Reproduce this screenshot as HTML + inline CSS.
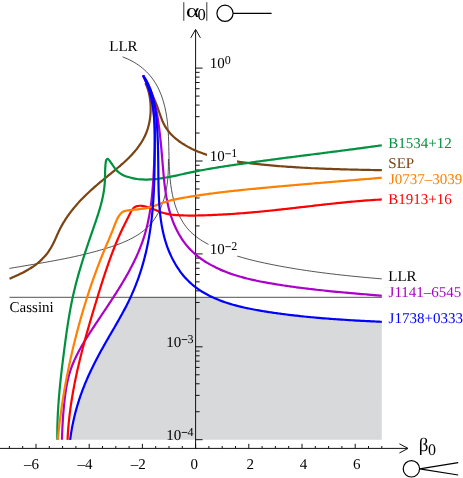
<!DOCTYPE html>
<html><head><meta charset="utf-8"><title>alpha0-beta0</title>
<style>html,body{margin:0;padding:0;background:#fff;}body{width:463px;height:478px;overflow:hidden;}svg{display:block;will-change:transform;}text{font-family:"Liberation Serif",serif;text-rendering:geometricPrecision;}</style>
</head><body>
<svg width="463" height="478" viewBox="0 0 463 478">
<rect width="463" height="478" fill="#fff"/>
<path d="M70.13 439.86 C70.19 439.44 70.35 438.18 70.46 437.35 C70.58 436.51 70.70 435.67 70.83 434.84 C70.95 434.01 71.08 433.17 71.22 432.34 C71.35 431.51 71.49 430.68 71.64 429.85 C71.78 429.01 71.93 428.19 72.09 427.36 C72.24 426.53 72.40 425.70 72.57 424.88 C72.73 424.05 72.90 423.22 73.08 422.40 C73.25 421.58 73.43 420.75 73.61 419.93 C73.80 419.11 73.99 418.29 74.18 417.47 C74.37 416.65 74.57 415.84 74.77 415.02 C74.98 414.20 75.18 413.39 75.40 412.58 C75.61 411.76 75.82 410.95 76.04 410.14 C76.27 409.33 76.49 408.52 76.72 407.71 C76.95 406.90 77.19 406.10 77.43 405.29 C77.67 404.49 77.91 403.68 78.16 402.88 C78.41 402.08 78.66 401.28 78.92 400.48 C79.17 399.68 79.44 398.88 79.70 398.09 C79.97 397.29 80.24 396.50 80.51 395.71 C80.79 394.91 81.07 394.12 81.35 393.34 C81.64 392.55 81.92 391.76 82.22 390.97 C82.51 390.19 82.81 389.40 83.11 388.62 C83.41 387.84 83.71 387.06 84.02 386.28 C84.33 385.50 84.64 384.73 84.96 383.95 C85.28 383.18 85.60 382.41 85.92 381.63 C86.25 380.86 86.58 380.09 86.91 379.33 C87.24 378.56 87.58 377.79 87.92 377.03 C88.26 376.26 88.60 375.50 88.95 374.74 C89.30 373.97 89.65 373.21 90.00 372.45 C90.35 371.70 90.71 370.94 91.07 370.18 C91.43 369.43 91.79 368.67 92.16 367.92 C92.53 367.16 92.90 366.41 93.27 365.66 C93.64 364.91 94.02 364.16 94.39 363.41 C94.77 362.66 95.15 361.92 95.53 361.17 C95.92 360.43 96.30 359.68 96.69 358.94 C97.08 358.19 97.47 357.45 97.86 356.71 C98.25 355.97 98.65 355.23 99.05 354.49 C99.44 353.75 99.84 353.01 100.24 352.27 C100.65 351.54 101.05 350.80 101.45 350.06 C101.86 349.33 102.27 348.59 102.68 347.86 C103.08 347.13 103.50 346.39 103.91 345.66 C104.32 344.93 104.73 344.20 105.15 343.47 C105.56 342.74 105.98 342.01 106.40 341.28 C106.82 340.55 107.24 339.82 107.66 339.09 C108.08 338.36 108.50 337.63 108.92 336.91 C109.34 336.18 109.76 335.45 110.18 334.72 C110.60 334.00 111.03 333.27 111.45 332.54 C111.87 331.81 112.29 331.09 112.72 330.36 C113.14 329.63 113.56 328.91 113.98 328.18 C114.40 327.45 114.82 326.72 115.24 325.99 C115.66 325.27 116.08 324.54 116.50 323.81 C116.92 323.08 117.34 322.35 117.75 321.62 C118.17 320.89 118.58 320.16 118.99 319.43 C119.41 318.70 119.82 317.96 120.23 317.23 C120.64 316.50 121.04 315.76 121.45 315.03 C121.85 314.29 122.26 313.56 122.66 312.82 C123.06 312.08 123.46 311.35 123.85 310.61 C124.25 309.87 124.64 309.13 125.03 308.38 C125.42 307.64 125.81 306.90 126.19 306.15 C126.57 305.41 126.95 304.66 127.33 303.91 C127.71 303.16 128.08 302.41 128.45 301.66 C128.82 300.91 129.20 300.13 129.54 299.40 C129.89 298.67 130.34 297.65 130.50 297.30 L212.6 297.3 L212.80 297.30 C213.13 297.46 214.08 297.95 214.80 298.28 C215.53 298.61 216.36 298.95 217.14 299.27 C217.92 299.59 218.70 299.91 219.49 300.22 C220.27 300.52 221.06 300.82 221.85 301.12 C222.65 301.41 223.44 301.69 224.24 301.97 C225.04 302.25 225.84 302.52 226.64 302.79 C227.44 303.05 228.25 303.31 229.06 303.56 C229.86 303.81 230.67 304.06 231.48 304.30 C232.30 304.54 233.11 304.77 233.93 305.00 C234.74 305.22 235.56 305.45 236.38 305.66 C237.20 305.88 238.02 306.09 238.84 306.30 C239.66 306.50 240.49 306.70 241.31 306.90 C242.14 307.10 242.97 307.29 243.79 307.47 C244.62 307.66 245.45 307.84 246.28 308.02 C247.11 308.20 247.94 308.37 248.78 308.54 C249.61 308.71 250.44 308.88 251.28 309.04 C252.11 309.21 252.94 309.37 253.78 309.52 C254.61 309.68 255.45 309.83 256.29 309.98 C257.12 310.13 257.96 310.28 258.79 310.42 C259.63 310.57 260.47 310.71 261.30 310.85 C262.14 310.99 262.98 311.12 263.81 311.26 C264.65 311.39 265.49 311.53 266.32 311.66 C267.16 311.79 267.99 311.92 268.83 312.05 C269.66 312.18 270.50 312.30 271.33 312.43 C272.17 312.55 273.00 312.67 273.84 312.80 C274.67 312.92 275.51 313.04 276.34 313.15 C277.17 313.27 278.01 313.39 278.84 313.50 C279.67 313.62 280.51 313.73 281.34 313.84 C282.17 313.95 283.01 314.06 283.84 314.17 C284.67 314.28 285.50 314.39 286.34 314.49 C287.17 314.60 288.00 314.70 288.83 314.80 C289.67 314.90 290.50 315.00 291.33 315.10 C292.16 315.20 292.99 315.30 293.83 315.40 C294.66 315.49 295.49 315.59 296.32 315.68 C297.15 315.78 297.98 315.87 298.82 315.96 C299.65 316.05 300.48 316.14 301.31 316.23 C302.14 316.32 302.98 316.40 303.81 316.49 C304.64 316.58 305.47 316.66 306.30 316.74 C307.13 316.83 307.97 316.91 308.80 316.99 C309.63 317.07 310.46 317.15 311.29 317.23 C312.13 317.31 312.96 317.38 313.79 317.46 C314.62 317.54 315.45 317.61 316.29 317.69 C317.12 317.76 317.95 317.83 318.78 317.90 C319.62 317.98 320.45 318.05 321.28 318.12 C322.12 318.19 322.95 318.25 323.78 318.32 C324.61 318.39 325.45 318.46 326.28 318.52 C327.12 318.59 327.95 318.65 328.78 318.72 C329.62 318.78 330.45 318.84 331.29 318.91 C332.12 318.97 332.96 319.03 333.79 319.09 C334.63 319.15 335.46 319.21 336.30 319.27 C337.13 319.33 337.97 319.38 338.80 319.44 C339.64 319.50 340.48 319.55 341.31 319.61 C342.15 319.66 342.99 319.72 343.83 319.77 C344.66 319.83 345.50 319.88 346.34 319.93 C347.18 319.98 348.02 320.04 348.86 320.09 C349.69 320.14 350.53 320.19 351.37 320.24 C352.21 320.29 353.05 320.34 353.89 320.39 C354.74 320.43 355.58 320.48 356.42 320.53 C357.26 320.58 358.10 320.62 358.94 320.67 C359.79 320.72 360.63 320.76 361.47 320.81 C362.32 320.85 363.16 320.90 364.00 320.94 C364.85 320.99 365.69 321.03 366.54 321.07 C367.38 321.12 368.23 321.16 369.08 321.20 C369.92 321.25 370.77 321.29 371.62 321.33 C372.47 321.37 373.31 321.41 374.16 321.46 C375.01 321.50 375.86 321.54 376.71 321.58 C377.56 321.62 378.41 321.66 379.26 321.70 C380.11 321.74 381.39 321.80 381.82 321.82 L381.8 439.8 L70 439.8 Z" fill="#d8d9da" stroke="none"/>
<g stroke="#111" stroke-width="1.0" fill="none">
<path d="M0 448.4 H407.5"/>
<path d="M399.4 443.8 L408 448.4 L399.4 453.0" stroke-linejoin="miter"/>
<path d="M195.60 448.9 V30"/>
<path d="M190.8 37.8 L195.60 29.4 L200.4 37.8"/>
<path d="M9.40 448.4 v-2.4 M22.70 448.4 v-2.4 M36.00 448.4 v-4.6 M49.30 448.4 v-2.4 M62.60 448.4 v-2.4 M75.90 448.4 v-2.4 M89.20 448.4 v-4.6 M102.50 448.4 v-2.4 M115.80 448.4 v-2.4 M129.10 448.4 v-2.4 M142.40 448.4 v-4.6 M155.70 448.4 v-2.4 M169.00 448.4 v-2.4 M182.30 448.4 v-2.4 M195.60 448.4 v-4.6 M208.90 448.4 v-2.4 M222.20 448.4 v-2.4 M235.50 448.4 v-2.4 M248.80 448.4 v-4.6 M262.10 448.4 v-2.4 M275.40 448.4 v-2.4 M288.70 448.4 v-2.4 M302.00 448.4 v-4.6 M315.30 448.4 v-2.4 M328.60 448.4 v-2.4 M341.90 448.4 v-2.4 M355.20 448.4 v-4.6 M368.50 448.4 v-2.4 M381.80 448.4 v-2.4"/>
<path d="M195.60 105.07 h4 M195.60 116.68 h4 M195.60 133.03 h4 M195.60 161.00 h7 M195.60 165.25 h4 M195.60 170.00 h4 M195.60 175.39 h4 M195.60 181.61 h4 M195.60 188.97 h4 M195.60 197.97 h4 M195.60 209.58 h4 M195.60 225.93 h4 M195.60 253.90 h7 M195.60 258.15 h4 M195.60 262.90 h4 M195.60 268.29 h4 M195.60 274.51 h4 M195.60 281.87 h4 M195.60 290.87 h4 M195.60 302.48 h4 M195.60 318.83 h4 M195.60 346.80 h7 M195.60 351.05 h4 M195.60 355.80 h4 M195.60 361.19 h4 M195.60 367.41 h4 M195.60 374.77 h4 M195.60 383.77 h4 M195.60 395.38 h4 M195.60 411.73 h4 M195.60 439.70 h7 M195.60 68.10 h7 M195.60 72.35 h4 M195.60 77.10 h4 M195.60 82.49 h4 M195.60 88.71 h4 M195.60 96.07 h4"/>
</g>
<g fill="none" stroke="#000" stroke-width="0.68">
<path d="M9.5 297.3 H382"/>
<path d="M9.48 268.43 C9.91 268.36 11.19 268.13 12.04 267.99 C12.89 267.84 13.74 267.70 14.59 267.55 C15.44 267.41 16.29 267.26 17.14 267.12 C17.98 266.97 18.83 266.83 19.68 266.69 C20.52 266.55 21.37 266.40 22.21 266.26 C23.05 266.12 23.90 265.98 24.74 265.83 C25.58 265.69 26.42 265.55 27.26 265.41 C28.10 265.27 28.94 265.13 29.78 264.98 C30.62 264.84 31.45 264.70 32.29 264.56 C33.13 264.42 33.96 264.27 34.80 264.13 C35.63 263.99 36.47 263.85 37.30 263.70 C38.13 263.56 38.97 263.42 39.80 263.27 C40.63 263.13 41.46 262.98 42.30 262.84 C43.13 262.69 43.96 262.55 44.79 262.40 C45.62 262.25 46.45 262.11 47.28 261.96 C48.11 261.81 48.93 261.66 49.76 261.51 C50.59 261.36 51.42 261.21 52.24 261.06 C53.07 260.90 53.90 260.75 54.72 260.60 C55.55 260.44 56.38 260.29 57.20 260.13 C58.03 259.97 58.85 259.81 59.68 259.65 C60.50 259.49 61.33 259.33 62.15 259.17 C62.98 259.01 63.80 258.84 64.62 258.68 C65.45 258.51 66.27 258.34 67.09 258.17 C67.92 258.00 68.74 257.83 69.56 257.66 C70.39 257.49 71.21 257.31 72.03 257.13 C72.86 256.96 73.68 256.78 74.50 256.60 C75.33 256.42 76.15 256.23 76.97 256.05 C77.79 255.86 78.62 255.67 79.44 255.48 C80.26 255.29 81.08 255.10 81.91 254.91 C82.73 254.71 83.55 254.51 84.38 254.32 C85.20 254.12 86.02 253.91 86.85 253.71 C87.67 253.50 88.49 253.30 89.32 253.08 C90.14 252.87 90.97 252.66 91.79 252.45 C92.61 252.23 93.44 252.01 94.26 251.79 C95.09 251.57 95.91 251.34 96.74 251.11 C97.56 250.88 98.39 250.65 99.22 250.42 C100.04 250.18 100.87 249.95 101.70 249.71 C102.52 249.46 103.35 249.22 104.18 248.97 C105.01 248.72 105.84 248.47 106.66 248.22 C107.49 247.96 108.32 247.70 109.15 247.44 C109.98 247.18 110.80 246.91 111.63 246.64 C112.45 246.36 113.28 246.09 114.10 245.80 C114.92 245.52 115.74 245.23 116.56 244.93 C117.37 244.64 118.19 244.34 119.00 244.03 C119.81 243.72 120.62 243.41 121.42 243.09 C122.22 242.77 123.02 242.44 123.81 242.10 C124.61 241.77 125.39 241.42 126.18 241.07 C126.96 240.72 127.74 240.36 128.51 239.99 C129.28 239.62 130.04 239.25 130.80 238.86 C131.55 238.47 132.30 238.08 133.04 237.67 C133.79 237.27 134.52 236.85 135.25 236.42 C135.97 236.00 136.69 235.56 137.40 235.12 C138.10 234.67 138.80 234.21 139.49 233.74 C140.18 233.27 140.86 232.79 141.52 232.30 C142.19 231.81 142.85 231.30 143.49 230.78 C144.14 230.27 144.77 229.74 145.39 229.19 C146.02 228.65 146.63 228.10 147.22 227.53 C147.82 226.96 148.40 226.38 148.98 225.78 C149.55 225.18 150.10 224.57 150.65 223.95 C151.19 223.32 151.72 222.68 152.24 222.03 C152.75 221.38 153.26 220.72 153.75 220.05 C154.24 219.37 154.72 218.68 155.18 217.99 C155.64 217.29 156.09 216.58 156.53 215.86 C156.97 215.14 157.39 214.41 157.80 213.68 C158.21 212.94 158.61 212.19 159.00 211.43 C159.38 210.68 159.76 209.91 160.12 209.14 C160.47 208.37 160.82 207.58 161.16 206.80 C161.49 206.01 161.81 205.21 162.12 204.41 C162.43 203.61 162.72 202.80 163.01 201.99 C163.29 201.18 163.56 200.36 163.82 199.53 C164.08 198.71 164.32 197.88 164.56 197.05 C164.79 196.22 165.01 195.38 165.22 194.54 C165.43 193.70 165.62 192.86 165.81 192.01 C165.99 191.17 166.16 190.32 166.32 189.47 C166.48 188.62 166.63 187.77 166.77 186.92 C166.90 186.06 167.03 185.21 167.14 184.36 C167.26 183.50 167.36 182.65 167.46 181.79 C167.56 180.94 167.64 180.08 167.72 179.23 C167.80 178.38 167.87 177.52 167.93 176.67 C167.99 175.82 168.05 174.96 168.10 174.11 C168.15 173.26 168.19 172.41 168.22 171.57 C168.26 170.72 168.29 169.88 168.32 169.04 C168.34 168.19 168.36 167.36 168.38 166.52 C168.40 165.68 168.41 164.85 168.42 164.02 C168.43 163.19 168.44 162.37 168.44 161.55 C168.45 160.73 168.45 159.51 168.45 159.10"/>
<path d="M122.51 56.90 C122.92 57.05 124.14 57.50 124.95 57.82 C125.75 58.14 126.55 58.47 127.34 58.82 C128.13 59.17 128.92 59.54 129.69 59.92 C130.46 60.30 131.23 60.69 131.98 61.10 C132.74 61.51 133.49 61.93 134.22 62.36 C134.96 62.80 135.69 63.25 136.40 63.71 C137.12 64.17 137.82 64.64 138.52 65.13 C139.21 65.62 139.90 66.12 140.57 66.63 C141.24 67.15 141.91 67.67 142.55 68.21 C143.20 68.75 143.84 69.30 144.46 69.86 C145.09 70.42 145.70 71.00 146.30 71.58 C146.90 72.17 147.48 72.77 148.05 73.38 C148.62 73.99 149.18 74.61 149.73 75.24 C150.27 75.87 150.80 76.51 151.31 77.16 C151.82 77.82 152.32 78.48 152.81 79.15 C153.29 79.83 153.76 80.51 154.22 81.20 C154.68 81.89 155.12 82.60 155.55 83.31 C155.97 84.02 156.39 84.74 156.79 85.46 C157.19 86.19 157.58 86.92 157.96 87.67 C158.33 88.41 158.70 89.16 159.05 89.91 C159.40 90.67 159.74 91.43 160.06 92.20 C160.39 92.97 160.70 93.74 161.01 94.52 C161.31 95.30 161.60 96.09 161.88 96.88 C162.16 97.67 162.43 98.46 162.68 99.26 C162.94 100.06 163.19 100.86 163.43 101.67 C163.66 102.47 163.89 103.28 164.10 104.09 C164.32 104.90 164.52 105.72 164.72 106.54 C164.92 107.35 165.10 108.17 165.28 108.99 C165.46 109.81 165.63 110.63 165.78 111.45 C165.94 112.28 166.09 113.10 166.24 113.92 C166.38 114.75 166.51 115.57 166.64 116.40 C166.76 117.22 166.88 118.05 166.99 118.88 C167.10 119.71 167.21 120.54 167.31 121.36 C167.40 122.19 167.49 123.02 167.58 123.85 C167.66 124.69 167.74 125.52 167.81 126.35 C167.89 127.18 167.95 128.02 168.02 128.85 C168.08 129.68 168.14 130.52 168.19 131.35 C168.24 132.19 168.29 133.02 168.34 133.86 C168.38 134.70 168.42 135.53 168.46 136.37 C168.50 137.21 168.53 138.05 168.56 138.89 C168.60 139.72 168.62 140.56 168.65 141.40 C168.68 142.24 168.70 143.08 168.72 143.92 C168.75 144.76 168.77 145.60 168.79 146.45 C168.81 147.29 168.82 148.13 168.84 148.97 C168.86 149.81 168.88 150.66 168.89 151.50 C168.91 152.34 168.93 153.18 168.95 154.03 C168.96 154.87 168.98 155.71 169.00 156.56 C169.02 157.40 169.04 158.25 169.06 159.09 C169.08 159.93 169.11 160.78 169.13 161.62 C169.16 162.47 169.19 163.31 169.22 164.16 C169.25 165.00 169.28 165.85 169.32 166.69 C169.35 167.54 169.39 168.38 169.44 169.23 C169.48 170.07 169.53 170.92 169.58 171.76 C169.63 172.61 169.68 173.45 169.74 174.30 C169.81 175.14 169.87 175.98 169.94 176.83 C170.01 177.67 170.09 178.52 170.17 179.36 C170.25 180.21 170.34 181.05 170.44 181.90 C170.53 182.74 170.63 183.58 170.74 184.43 C170.85 185.27 170.96 186.11 171.09 186.96 C171.21 187.80 171.34 188.64 171.48 189.48 C171.62 190.33 171.76 191.17 171.92 192.01 C172.08 192.85 172.24 193.69 172.41 194.52 C172.58 195.36 172.77 196.20 172.96 197.03 C173.15 197.86 173.35 198.69 173.56 199.52 C173.77 200.34 173.99 201.16 174.22 201.98 C174.44 202.80 174.68 203.62 174.93 204.43 C175.18 205.24 175.44 206.04 175.71 206.84 C175.99 207.64 176.27 208.43 176.56 209.22 C176.85 210.01 177.16 210.79 177.47 211.57 C177.79 212.34 178.12 213.11 178.46 213.87 C178.80 214.63 179.15 215.38 179.51 216.13 C179.88 216.87 180.25 217.61 180.64 218.34 C181.03 219.06 181.43 219.78 181.85 220.49 C182.26 221.20 182.69 221.90 183.13 222.59 C183.58 223.28 184.03 223.96 184.50 224.63 C184.97 225.30 185.45 225.95 185.95 226.60 C186.45 227.25 186.96 227.88 187.49 228.50 C188.02 229.12 188.56 229.73 189.12 230.33 C189.67 230.93 190.25 231.51 190.83 232.08 C191.42 232.65 192.02 233.21 192.63 233.76 C193.24 234.30 193.87 234.84 194.51 235.36 C195.15 235.89 195.80 236.40 196.46 236.90 C197.12 237.40 197.79 237.89 198.48 238.37 C199.16 238.85 199.85 239.32 200.55 239.78 C201.25 240.24 201.96 240.69 202.68 241.13 C203.40 241.57 204.13 242.00 204.86 242.42 C205.59 242.84 206.33 243.26 207.07 243.66 C207.82 244.07 208.57 244.46 209.33 244.85 C210.08 245.24 210.84 245.62 211.61 246.00 C212.37 246.37 213.14 246.74 213.91 247.10 C214.68 247.46 215.45 247.81 216.22 248.16 C217.00 248.51 217.78 248.85 218.55 249.18 C219.33 249.52 220.11 249.85 220.90 250.17 C221.68 250.49 222.46 250.81 223.25 251.12 C224.04 251.43 224.83 251.74 225.62 252.04 C226.41 252.34 227.20 252.63 227.99 252.92 C228.79 253.21 229.58 253.49 230.38 253.77 C231.18 254.05 231.98 254.32 232.78 254.59 C233.58 254.86 234.38 255.12 235.18 255.38 C235.98 255.64 236.79 255.90 237.59 256.15 C238.40 256.39 239.21 256.64 240.02 256.88 C240.82 257.12 241.63 257.36 242.45 257.59 C243.26 257.82 244.07 258.05 244.88 258.28 C245.69 258.50 246.51 258.72 247.32 258.94 C248.14 259.16 248.95 259.37 249.77 259.58 C250.59 259.79 251.40 260.00 252.22 260.20 C253.04 260.40 253.86 260.60 254.68 260.80 C255.50 261.00 256.32 261.19 257.14 261.38 C257.96 261.57 258.78 261.76 259.61 261.95 C260.43 262.13 261.25 262.32 262.07 262.50 C262.90 262.68 263.72 262.86 264.54 263.03 C265.37 263.21 266.19 263.38 267.02 263.55 C267.84 263.72 268.67 263.89 269.49 264.06 C270.31 264.23 271.14 264.40 271.96 264.56 C272.79 264.73 273.61 264.89 274.44 265.05 C275.26 265.21 276.09 265.37 276.91 265.53 C277.74 265.69 278.56 265.84 279.39 266.00 C280.21 266.15 281.04 266.31 281.87 266.46 C282.69 266.61 283.52 266.76 284.34 266.91 C285.17 267.06 285.99 267.20 286.82 267.35 C287.65 267.49 288.47 267.64 289.30 267.78 C290.12 267.92 290.95 268.06 291.78 268.20 C292.60 268.34 293.43 268.48 294.26 268.61 C295.08 268.75 295.91 268.89 296.74 269.02 C297.57 269.15 298.39 269.29 299.22 269.42 C300.05 269.55 300.87 269.68 301.70 269.80 C302.53 269.93 303.36 270.06 304.19 270.18 C305.01 270.31 305.84 270.43 306.67 270.56 C307.50 270.68 308.33 270.80 309.16 270.92 C309.98 271.04 310.81 271.16 311.64 271.28 C312.47 271.40 313.30 271.51 314.13 271.63 C314.96 271.74 315.79 271.86 316.62 271.97 C317.45 272.08 318.28 272.19 319.11 272.30 C319.94 272.41 320.77 272.52 321.60 272.63 C322.43 272.74 323.26 272.85 324.09 272.95 C324.92 273.06 325.75 273.16 326.58 273.27 C327.41 273.37 328.25 273.47 329.08 273.58 C329.91 273.68 330.74 273.78 331.57 273.88 C332.41 273.98 333.24 274.08 334.07 274.17 C334.90 274.27 335.74 274.37 336.57 274.46 C337.40 274.56 338.24 274.65 339.07 274.75 C339.90 274.84 340.74 274.94 341.57 275.03 C342.40 275.12 343.24 275.21 344.07 275.30 C344.91 275.39 345.74 275.48 346.58 275.57 C347.41 275.66 348.25 275.75 349.08 275.83 C349.92 275.92 350.75 276.01 351.59 276.09 C352.43 276.18 353.26 276.26 354.10 276.34 C354.94 276.43 355.77 276.51 356.61 276.59 C357.45 276.68 358.28 276.76 359.12 276.84 C359.96 276.92 360.80 277.00 361.64 277.08 C362.47 277.16 363.31 277.24 364.15 277.31 C364.99 277.39 365.83 277.47 366.67 277.55 C367.51 277.62 368.35 277.70 369.19 277.78 C370.03 277.85 370.87 277.93 371.71 278.00 C372.55 278.08 373.39 278.15 374.23 278.22 C375.07 278.30 375.92 278.37 376.76 278.44 C377.60 278.52 378.44 278.59 379.28 278.66 C380.13 278.73 381.39 278.84 381.81 278.87"/>
</g>
<g fill="none" stroke-width="2.20" stroke-linejoin="round">
<path d="M9.52 278.80 C9.89 278.64 11.01 278.15 11.76 277.82 C12.52 277.49 13.28 277.15 14.04 276.81 C14.80 276.47 15.56 276.12 16.32 275.77 C17.09 275.42 17.85 275.06 18.62 274.69 C19.38 274.33 20.15 273.96 20.91 273.58 C21.67 273.20 22.43 272.82 23.19 272.42 C23.95 272.03 24.70 271.63 25.45 271.22 C26.20 270.81 26.95 270.39 27.69 269.96 C28.43 269.53 29.17 269.10 29.89 268.65 C30.62 268.20 31.34 267.75 32.05 267.28 C32.76 266.81 33.46 266.34 34.16 265.85 C34.85 265.36 35.53 264.86 36.20 264.34 C36.87 263.83 37.53 263.31 38.17 262.77 C38.82 262.24 39.45 261.69 40.07 261.12 C40.69 260.56 41.30 259.99 41.89 259.40 C42.48 258.82 43.07 258.22 43.63 257.61 C44.20 257.00 44.75 256.37 45.29 255.74 C45.83 255.10 46.36 254.46 46.87 253.80 C47.38 253.14 47.88 252.47 48.37 251.79 C48.85 251.11 49.32 250.42 49.78 249.71 C50.23 249.01 50.68 248.29 51.10 247.56 C51.53 246.84 51.95 246.10 52.35 245.35 C52.75 244.60 53.13 243.84 53.50 243.07 C53.88 242.30 54.24 241.52 54.60 240.74 C54.95 239.96 55.30 239.17 55.65 238.38 C56.00 237.60 56.34 236.80 56.69 236.02 C57.03 235.23 57.38 234.44 57.73 233.66 C58.09 232.88 58.44 232.10 58.81 231.33 C59.18 230.56 59.56 229.80 59.94 229.05 C60.32 228.29 60.72 227.55 61.12 226.80 C61.52 226.06 61.92 225.33 62.34 224.60 C62.75 223.87 63.18 223.15 63.61 222.43 C64.04 221.72 64.47 221.01 64.92 220.31 C65.36 219.60 65.82 218.91 66.27 218.21 C66.73 217.52 67.20 216.84 67.67 216.16 C68.15 215.48 68.63 214.80 69.11 214.13 C69.60 213.46 70.09 212.80 70.59 212.14 C71.09 211.48 71.59 210.83 72.11 210.18 C72.62 209.53 73.13 208.89 73.66 208.25 C74.18 207.61 74.71 206.98 75.25 206.35 C75.78 205.72 76.32 205.09 76.87 204.47 C77.42 203.85 77.97 203.23 78.53 202.62 C79.08 202.01 79.65 201.40 80.21 200.80 C80.78 200.19 81.36 199.59 81.93 198.99 C82.51 198.40 83.09 197.80 83.68 197.21 C84.27 196.62 84.86 196.04 85.46 195.45 C86.05 194.87 86.66 194.29 87.26 193.71 C87.87 193.13 88.48 192.56 89.09 191.99 C89.70 191.42 90.32 190.85 90.94 190.28 C91.57 189.72 92.19 189.15 92.82 188.59 C93.45 188.03 94.08 187.47 94.72 186.91 C95.36 186.36 96.00 185.80 96.64 185.25 C97.28 184.70 97.93 184.15 98.58 183.60 C99.23 183.05 99.88 182.50 100.54 181.95 C101.19 181.41 101.85 180.86 102.51 180.32 C103.17 179.78 103.83 179.23 104.50 178.69 C105.16 178.15 105.83 177.61 106.49 177.07 C107.16 176.53 107.83 175.99 108.49 175.44 C109.16 174.90 109.83 174.36 110.49 173.82 C111.16 173.28 111.83 172.74 112.49 172.19 C113.16 171.65 113.82 171.11 114.48 170.56 C115.14 170.01 115.80 169.47 116.46 168.92 C117.12 168.37 117.77 167.82 118.42 167.26 C119.07 166.71 119.72 166.16 120.36 165.60 C121.01 165.04 121.65 164.48 122.28 163.91 C122.91 163.35 123.55 162.78 124.17 162.21 C124.79 161.64 125.41 161.07 126.03 160.49 C126.64 159.91 127.25 159.33 127.85 158.74 C128.45 158.16 129.04 157.57 129.63 156.97 C130.21 156.38 130.79 155.78 131.36 155.17 C131.93 154.56 132.49 153.95 133.05 153.34 C133.60 152.72 134.15 152.10 134.68 151.47 C135.21 150.84 135.74 150.21 136.26 149.57 C136.77 148.93 137.28 148.28 137.77 147.63 C138.26 146.97 138.75 146.31 139.22 145.64 C139.69 144.98 140.15 144.30 140.60 143.62 C141.05 142.94 141.48 142.24 141.90 141.55 C142.33 140.85 142.74 140.14 143.13 139.43 C143.53 138.71 143.91 137.99 144.28 137.25 C144.65 136.52 145.00 135.78 145.34 135.03 C145.68 134.28 146.00 133.52 146.31 132.74 C146.62 131.97 146.91 131.19 147.19 130.40 C147.46 129.61 147.72 128.81 147.96 128.00 C148.21 127.19 148.43 126.37 148.64 125.54 C148.85 124.72 149.04 123.88 149.22 123.04 C149.40 122.20 149.56 121.35 149.70 120.49 C149.85 119.64 149.97 118.78 150.09 117.91 C150.20 117.05 150.29 116.18 150.37 115.31 C150.45 114.44 150.52 113.57 150.56 112.69 C150.61 111.82 150.64 110.95 150.66 110.07 C150.68 109.20 150.68 108.32 150.66 107.45 C150.65 106.58 150.61 105.71 150.57 104.84 C150.52 103.97 150.46 103.11 150.38 102.25 C150.30 101.39 150.21 100.53 150.10 99.68 C149.99 98.83 149.87 97.99 149.73 97.15 C149.59 96.32 149.44 95.49 149.27 94.67 C149.10 93.85 148.91 93.04 148.71 92.24 C148.51 91.44 148.30 90.64 148.07 89.86 C147.84 89.08 147.59 88.31 147.34 87.56 C147.08 86.81 146.80 86.06 146.51 85.33 C146.22 84.61 145.76 83.55 145.60 83.19" stroke="#7a4413"/>
<path d="M145.46 83.02 C145.68 83.40 146.33 84.52 146.75 85.26 C147.18 86.00 147.60 86.74 148.02 87.47 C148.44 88.20 148.86 88.93 149.27 89.66 C149.67 90.39 150.08 91.12 150.48 91.85 C150.88 92.58 151.27 93.31 151.66 94.04 C152.04 94.77 152.42 95.50 152.79 96.24 C153.16 96.98 153.53 97.72 153.88 98.47 C154.24 99.22 154.59 99.98 154.92 100.74 C155.26 101.51 155.59 102.28 155.91 103.06 C156.22 103.84 156.53 104.63 156.83 105.43 C157.13 106.23 157.42 107.04 157.71 107.85 C157.99 108.66 158.27 109.48 158.56 110.30 C158.84 111.12 159.12 111.94 159.40 112.77 C159.68 113.59 159.96 114.41 160.25 115.23 C160.55 116.05 160.84 116.86 161.15 117.67 C161.45 118.48 161.76 119.28 162.09 120.08 C162.42 120.87 162.76 121.65 163.11 122.43 C163.47 123.20 163.84 123.96 164.23 124.70 C164.62 125.45 165.03 126.18 165.46 126.89 C165.89 127.61 166.35 128.30 166.81 128.99 C167.28 129.67 167.77 130.34 168.28 130.99 C168.79 131.64 169.31 132.28 169.85 132.91 C170.39 133.53 170.95 134.14 171.52 134.73 C172.09 135.33 172.68 135.91 173.28 136.48 C173.88 137.05 174.50 137.60 175.13 138.14 C175.75 138.69 176.39 139.21 177.05 139.73 C177.70 140.25 178.36 140.75 179.04 141.24 C179.71 141.73 180.39 142.21 181.09 142.68 C181.78 143.15 182.48 143.61 183.19 144.05 C183.90 144.50 184.62 144.93 185.35 145.36 C186.07 145.78 186.80 146.19 187.54 146.60 C188.27 147.00 189.02 147.39 189.76 147.77 C190.51 148.16 191.26 148.53 192.01 148.90 C192.77 149.26 193.53 149.61 194.29 149.96 C195.05 150.31 195.82 150.64 196.59 150.97 C197.35 151.30 198.13 151.62 198.90 151.93 C199.68 152.24 200.46 152.54 201.24 152.84 C202.02 153.13 202.81 153.42 203.60 153.69 C204.39 153.97 205.18 154.24 205.98 154.51 C206.77 154.77 207.57 155.03 208.37 155.27 C209.17 155.52 209.97 155.76 210.78 156.00 C211.59 156.23 212.39 156.46 213.20 156.68 C214.02 156.90 214.83 157.12 215.64 157.33 C216.46 157.53 217.28 157.74 218.10 157.93 C218.92 158.13 219.74 158.32 220.56 158.51 C221.38 158.69 222.21 158.87 223.04 159.04 C223.86 159.22 224.69 159.39 225.52 159.55 C226.35 159.72 227.19 159.88 228.02 160.03 C228.85 160.18 229.69 160.33 230.52 160.48 C231.36 160.63 232.19 160.77 233.03 160.90 C233.87 161.04 234.71 161.18 235.55 161.31 C236.39 161.44 237.23 161.56 238.07 161.68 C238.91 161.81 239.75 161.93 240.59 162.04 C241.44 162.16 242.28 162.27 243.12 162.38 C243.96 162.50 244.81 162.60 245.65 162.71 C246.50 162.82 247.34 162.92 248.18 163.02 C249.03 163.12 249.87 163.22 250.71 163.32 C251.56 163.42 252.40 163.51 253.24 163.61 C254.09 163.70 254.93 163.79 255.77 163.88 C256.61 163.98 257.45 164.07 258.30 164.16 C259.14 164.24 259.98 164.33 260.82 164.42 C261.66 164.50 262.50 164.59 263.34 164.67 C264.18 164.75 265.02 164.84 265.86 164.92 C266.70 165.00 267.54 165.08 268.38 165.15 C269.22 165.23 270.06 165.31 270.90 165.38 C271.74 165.46 272.58 165.53 273.42 165.60 C274.25 165.68 275.09 165.75 275.93 165.82 C276.77 165.89 277.61 165.96 278.45 166.03 C279.28 166.09 280.12 166.16 280.96 166.23 C281.80 166.29 282.63 166.36 283.47 166.42 C284.31 166.48 285.14 166.54 285.98 166.61 C286.82 166.67 287.66 166.73 288.49 166.78 C289.33 166.84 290.17 166.90 291.00 166.96 C291.84 167.01 292.68 167.07 293.51 167.12 C294.35 167.18 295.18 167.23 296.02 167.28 C296.86 167.34 297.69 167.39 298.53 167.44 C299.37 167.49 300.20 167.54 301.04 167.59 C301.87 167.64 302.71 167.68 303.55 167.73 C304.38 167.78 305.22 167.82 306.06 167.87 C306.89 167.91 307.73 167.96 308.56 168.00 C309.40 168.04 310.24 168.08 311.07 168.13 C311.91 168.17 312.75 168.21 313.58 168.25 C314.42 168.29 315.26 168.33 316.09 168.36 C316.93 168.40 317.77 168.44 318.60 168.47 C319.44 168.51 320.28 168.55 321.11 168.58 C321.95 168.62 322.79 168.65 323.62 168.68 C324.46 168.72 325.30 168.75 326.14 168.78 C326.97 168.81 327.81 168.85 328.65 168.88 C329.49 168.91 330.33 168.94 331.16 168.97 C332.00 169.00 332.84 169.03 333.68 169.05 C334.52 169.08 335.36 169.11 336.20 169.14 C337.04 169.16 337.88 169.19 338.72 169.22 C339.55 169.24 340.39 169.27 341.23 169.29 C342.08 169.32 342.92 169.34 343.76 169.36 C344.60 169.39 345.44 169.41 346.28 169.43 C347.12 169.46 347.96 169.48 348.80 169.50 C349.65 169.52 350.49 169.54 351.33 169.57 C352.17 169.59 353.02 169.61 353.86 169.63 C354.70 169.65 355.54 169.67 356.39 169.69 C357.23 169.71 358.08 169.72 358.92 169.74 C359.77 169.76 360.61 169.78 361.46 169.80 C362.30 169.82 363.15 169.83 363.99 169.85 C364.84 169.87 365.69 169.89 366.53 169.90 C367.38 169.92 368.23 169.94 369.08 169.95 C369.92 169.97 370.77 169.99 371.62 170.00 C372.47 170.02 373.32 170.03 374.17 170.05 C375.02 170.06 375.87 170.08 376.72 170.09 C377.57 170.11 378.42 170.13 379.27 170.14 C380.12 170.15 381.40 170.18 381.83 170.18" stroke="#7a4413"/>
<path d="M57.32 439.83 C57.32 439.40 57.30 438.13 57.30 437.28 C57.29 436.44 57.29 435.59 57.29 434.74 C57.29 433.90 57.29 433.05 57.30 432.21 C57.31 431.36 57.32 430.52 57.33 429.67 C57.34 428.83 57.35 427.99 57.37 427.14 C57.39 426.30 57.41 425.46 57.43 424.61 C57.45 423.77 57.48 422.93 57.50 422.09 C57.53 421.25 57.56 420.41 57.59 419.57 C57.62 418.72 57.66 417.88 57.69 417.04 C57.73 416.20 57.77 415.37 57.81 414.53 C57.85 413.69 57.90 412.85 57.94 412.01 C57.99 411.17 58.03 410.33 58.08 409.50 C58.13 408.66 58.19 407.82 58.24 406.98 C58.29 406.14 58.35 405.31 58.41 404.47 C58.47 403.63 58.53 402.80 58.59 401.96 C58.65 401.13 58.71 400.29 58.78 399.45 C58.84 398.62 58.91 397.78 58.98 396.95 C59.05 396.11 59.12 395.28 59.19 394.44 C59.27 393.61 59.34 392.77 59.41 391.94 C59.49 391.10 59.57 390.27 59.65 389.43 C59.73 388.60 59.81 387.77 59.89 386.93 C59.97 386.10 60.05 385.26 60.14 384.43 C60.22 383.60 60.31 382.76 60.39 381.93 C60.48 381.09 60.57 380.26 60.66 379.43 C60.75 378.59 60.84 377.76 60.93 376.93 C61.02 376.09 61.12 375.26 61.21 374.43 C61.31 373.59 61.40 372.76 61.50 371.93 C61.59 371.09 61.69 370.26 61.79 369.43 C61.89 368.59 61.99 367.76 62.09 366.93 C62.19 366.09 62.29 365.26 62.39 364.43 C62.49 363.59 62.59 362.76 62.70 361.92 C62.80 361.09 62.90 360.26 63.01 359.42 C63.11 358.59 63.22 357.76 63.32 356.92 C63.43 356.09 63.54 355.25 63.64 354.42 C63.75 353.58 63.86 352.75 63.97 351.92 C64.07 351.08 64.18 350.25 64.29 349.41 C64.40 348.58 64.51 347.74 64.62 346.91 C64.73 346.07 64.84 345.23 64.95 344.40 C65.06 343.56 65.17 342.73 65.28 341.89 C65.39 341.06 65.50 340.22 65.62 339.38 C65.73 338.55 65.84 337.71 65.96 336.88 C66.07 336.04 66.19 335.21 66.31 334.37 C66.42 333.54 66.54 332.70 66.66 331.87 C66.78 331.03 66.90 330.20 67.02 329.36 C67.15 328.53 67.27 327.69 67.40 326.86 C67.52 326.02 67.65 325.19 67.78 324.36 C67.90 323.52 68.03 322.69 68.17 321.86 C68.30 321.02 68.43 320.19 68.57 319.36 C68.70 318.53 68.84 317.69 68.98 316.86 C69.12 316.03 69.26 315.20 69.40 314.37 C69.54 313.54 69.69 312.71 69.84 311.88 C69.99 311.05 70.14 310.23 70.29 309.40 C70.44 308.57 70.59 307.74 70.75 306.92 C70.91 306.09 71.07 305.27 71.23 304.44 C71.40 303.62 71.56 302.79 71.73 301.97 C71.90 301.14 72.07 300.32 72.24 299.50 C72.42 298.68 72.59 297.86 72.77 297.04 C72.95 296.22 73.13 295.40 73.32 294.58 C73.51 293.76 73.69 292.94 73.89 292.13 C74.08 291.31 74.27 290.50 74.47 289.68 C74.67 288.87 74.87 288.05 75.07 287.24 C75.27 286.43 75.48 285.61 75.68 284.80 C75.89 283.99 76.10 283.18 76.31 282.37 C76.53 281.56 76.74 280.75 76.96 279.94 C77.18 279.13 77.40 278.32 77.62 277.51 C77.84 276.70 78.07 275.90 78.29 275.09 C78.52 274.28 78.75 273.48 78.98 272.67 C79.21 271.87 79.44 271.06 79.68 270.26 C79.91 269.45 80.15 268.65 80.39 267.85 C80.63 267.04 80.87 266.24 81.11 265.44 C81.35 264.63 81.60 263.83 81.85 263.03 C82.09 262.23 82.34 261.43 82.59 260.63 C82.84 259.83 83.09 259.03 83.34 258.23 C83.59 257.43 83.85 256.63 84.10 255.83 C84.36 255.03 84.62 254.23 84.88 253.43 C85.13 252.63 85.39 251.83 85.65 251.03 C85.92 250.23 86.18 249.44 86.44 248.64 C86.70 247.84 86.97 247.04 87.23 246.25 C87.50 245.45 87.77 244.65 88.03 243.85 C88.30 243.06 88.57 242.26 88.84 241.46 C89.11 240.67 89.38 239.87 89.65 239.07 C89.92 238.28 90.19 237.48 90.47 236.68 C90.74 235.89 91.01 235.09 91.29 234.29 C91.56 233.50 91.83 232.70 92.11 231.90 C92.38 231.11 92.66 230.31 92.94 229.51 C93.21 228.72 93.49 227.92 93.76 227.12 C94.04 226.33 94.32 225.53 94.59 224.73 C94.87 223.93 95.14 223.14 95.41 222.34 C95.68 221.54 95.96 220.74 96.23 219.94 C96.49 219.15 96.76 218.35 97.02 217.55 C97.29 216.75 97.55 215.95 97.81 215.14 C98.07 214.34 98.32 213.54 98.57 212.74 C98.82 211.94 99.07 211.13 99.31 210.33 C99.55 209.52 99.79 208.72 100.02 207.91 C100.25 207.11 100.48 206.30 100.70 205.49 C100.92 204.68 101.13 203.87 101.34 203.06 C101.55 202.25 101.75 201.44 101.94 200.63 C102.13 199.81 102.32 199.00 102.50 198.18 C102.68 197.37 102.85 196.55 103.01 195.73 C103.17 194.91 103.33 194.09 103.47 193.27 C103.62 192.45 103.75 191.63 103.88 190.80 C104.00 189.97 104.12 189.15 104.23 188.32 C104.33 187.49 104.43 186.66 104.51 185.83 C104.59 184.99 104.67 184.16 104.73 183.32 C104.79 182.49 104.84 181.65 104.88 180.81 C104.92 179.97 104.95 179.12 104.97 178.28 C105.00 177.43 105.01 176.58 105.03 175.73 C105.05 174.89 105.06 174.03 105.08 173.18 C105.10 172.33 105.12 171.47 105.15 170.61 C105.18 169.75 105.21 168.89 105.26 168.03 C105.30 167.16 105.35 166.30 105.42 165.43 C105.49 164.56 105.55 163.67 105.67 162.82 C105.79 161.97 105.85 160.99 106.16 160.32 C106.48 159.65 107.04 158.82 107.55 158.82 C108.05 158.81 108.67 159.69 109.20 160.27 C109.72 160.84 110.22 161.58 110.71 162.27 C111.20 162.95 111.67 163.66 112.15 164.37 C112.63 165.07 113.10 165.79 113.59 166.49 C114.08 167.19 114.56 167.89 115.08 168.56 C115.60 169.23 116.13 169.88 116.70 170.49 C117.27 171.10 117.87 171.68 118.51 172.21 C119.15 172.74 119.84 173.23 120.54 173.68 C121.25 174.13 121.99 174.54 122.74 174.92 C123.50 175.30 124.28 175.64 125.07 175.96 C125.86 176.28 126.67 176.56 127.48 176.83 C128.28 177.10 129.10 177.34 129.91 177.56 C130.73 177.78 131.54 177.99 132.36 178.17 C133.18 178.35 134.01 178.51 134.83 178.66 C135.66 178.80 136.49 178.92 137.32 179.03 C138.14 179.14 138.98 179.23 139.81 179.30 C140.64 179.38 141.48 179.43 142.31 179.47 C143.15 179.52 143.98 179.54 144.82 179.56 C145.66 179.57 146.50 179.57 147.34 179.55 C148.17 179.54 149.01 179.51 149.85 179.47 C150.69 179.43 151.53 179.38 152.37 179.32 C153.21 179.26 154.05 179.18 154.89 179.10 C155.73 179.02 156.57 178.93 157.40 178.83 C158.24 178.73 159.08 178.62 159.91 178.50 C160.75 178.39 161.58 178.26 162.41 178.13 C163.25 178.00 164.08 177.87 164.91 177.73 C165.74 177.59 166.56 177.44 167.39 177.29 C168.22 177.14 169.05 176.98 169.87 176.82 C170.70 176.66 171.52 176.50 172.34 176.33 C173.17 176.17 173.99 176.00 174.81 175.83 C175.63 175.65 176.46 175.48 177.28 175.30 C178.10 175.13 178.92 174.95 179.74 174.77 C180.56 174.59 181.38 174.41 182.20 174.23 C183.02 174.05 183.84 173.87 184.66 173.69 C185.48 173.51 186.30 173.33 187.12 173.15 C187.94 172.98 188.77 172.80 189.59 172.63 C190.41 172.45 191.23 172.28 192.05 172.11 C192.88 171.94 193.70 171.77 194.52 171.61 C195.35 171.44 196.17 171.28 196.99 171.12 C197.82 170.95 198.64 170.79 199.47 170.64 C200.29 170.48 201.12 170.32 201.95 170.17 C202.77 170.01 203.60 169.86 204.42 169.71 C205.25 169.56 206.08 169.41 206.91 169.26 C207.73 169.12 208.56 168.97 209.39 168.83 C210.22 168.68 211.05 168.54 211.88 168.40 C212.70 168.26 213.53 168.12 214.36 167.98 C215.19 167.84 216.02 167.71 216.85 167.57 C217.68 167.43 218.51 167.30 219.34 167.17 C220.17 167.03 221.00 166.90 221.83 166.77 C222.66 166.64 223.50 166.51 224.33 166.38 C225.16 166.25 225.99 166.12 226.82 166.00 C227.65 165.87 228.48 165.74 229.32 165.62 C230.15 165.49 230.98 165.37 231.81 165.24 C232.64 165.12 233.48 165.00 234.31 164.88 C235.14 164.75 235.97 164.63 236.80 164.51 C237.64 164.39 238.47 164.27 239.30 164.15 C240.13 164.03 240.97 163.91 241.80 163.79 C242.63 163.67 243.46 163.55 244.30 163.44 C245.13 163.32 245.96 163.20 246.80 163.08 C247.63 162.97 248.46 162.85 249.29 162.73 C250.13 162.62 250.96 162.50 251.79 162.38 C252.63 162.27 253.46 162.15 254.29 162.04 C255.12 161.92 255.96 161.81 256.79 161.69 C257.62 161.58 258.46 161.47 259.29 161.35 C260.12 161.24 260.95 161.13 261.79 161.01 C262.62 160.90 263.45 160.79 264.29 160.68 C265.12 160.56 265.95 160.45 266.79 160.34 C267.62 160.23 268.45 160.12 269.29 160.01 C270.12 159.89 270.95 159.78 271.79 159.67 C272.62 159.56 273.45 159.45 274.29 159.34 C275.12 159.23 275.95 159.12 276.79 159.01 C277.62 158.90 278.45 158.79 279.29 158.69 C280.12 158.58 280.95 158.47 281.79 158.36 C282.62 158.25 283.45 158.14 284.29 158.03 C285.12 157.93 285.95 157.82 286.79 157.71 C287.62 157.60 288.45 157.49 289.29 157.39 C290.12 157.28 290.95 157.17 291.79 157.06 C292.62 156.96 293.45 156.85 294.29 156.74 C295.12 156.64 295.96 156.53 296.79 156.42 C297.62 156.32 298.46 156.21 299.29 156.10 C300.12 156.00 300.96 155.89 301.79 155.78 C302.62 155.68 303.46 155.57 304.29 155.46 C305.12 155.36 305.96 155.25 306.79 155.14 C307.63 155.04 308.46 154.93 309.29 154.83 C310.13 154.72 310.96 154.61 311.79 154.51 C312.63 154.40 313.46 154.30 314.29 154.19 C315.13 154.08 315.96 153.98 316.80 153.87 C317.63 153.77 318.46 153.66 319.30 153.55 C320.13 153.45 320.96 153.34 321.80 153.24 C322.63 153.13 323.47 153.02 324.30 152.92 C325.13 152.81 325.97 152.70 326.80 152.60 C327.63 152.49 328.47 152.39 329.30 152.28 C330.13 152.17 330.97 152.07 331.80 151.96 C332.64 151.85 333.47 151.75 334.30 151.64 C335.14 151.53 335.97 151.42 336.80 151.32 C337.64 151.21 338.47 151.10 339.30 150.99 C340.14 150.89 340.97 150.78 341.80 150.67 C342.64 150.56 343.47 150.46 344.31 150.35 C345.14 150.24 345.97 150.13 346.81 150.02 C347.64 149.91 348.47 149.81 349.31 149.70 C350.14 149.59 350.97 149.48 351.81 149.37 C352.64 149.26 353.47 149.15 354.31 149.04 C355.14 148.93 355.97 148.82 356.81 148.71 C357.64 148.60 358.47 148.49 359.31 148.38 C360.14 148.27 360.97 148.16 361.81 148.04 C362.64 147.93 363.47 147.82 364.31 147.71 C365.14 147.60 365.97 147.48 366.81 147.37 C367.64 147.26 368.47 147.15 369.31 147.03 C370.14 146.92 370.97 146.81 371.81 146.69 C372.64 146.58 373.47 146.46 374.31 146.35 C375.14 146.23 375.97 146.12 376.80 146.00 C377.64 145.89 378.47 145.77 379.30 145.65 C380.14 145.54 381.39 145.36 381.80 145.30" stroke="#00913f"/>
<path d="M61.98 439.78 C61.99 439.35 62.03 438.08 62.05 437.23 C62.07 436.38 62.10 435.53 62.13 434.69 C62.15 433.84 62.18 433.00 62.22 432.16 C62.25 431.32 62.28 430.48 62.32 429.64 C62.35 428.80 62.39 427.96 62.43 427.13 C62.47 426.29 62.51 425.45 62.56 424.62 C62.60 423.79 62.65 422.95 62.70 422.12 C62.75 421.29 62.80 420.45 62.85 419.62 C62.91 418.79 62.97 417.95 63.02 417.12 C63.08 416.29 63.14 415.46 63.21 414.62 C63.27 413.79 63.34 412.95 63.41 412.12 C63.48 411.28 63.55 410.45 63.62 409.61 C63.70 408.78 63.77 407.94 63.85 407.10 C63.93 406.26 64.01 405.42 64.10 404.58 C64.18 403.73 64.27 402.89 64.36 402.04 C64.45 401.20 64.55 400.35 64.64 399.50 C64.74 398.65 64.84 397.80 64.95 396.95 C65.05 396.10 65.16 395.25 65.27 394.40 C65.39 393.55 65.50 392.69 65.63 391.84 C65.75 390.99 65.88 390.14 66.02 389.29 C66.15 388.44 66.29 387.59 66.44 386.75 C66.59 385.90 66.74 385.06 66.91 384.22 C67.07 383.37 67.24 382.53 67.42 381.70 C67.59 380.86 67.78 380.03 67.97 379.20 C68.17 378.37 68.37 377.54 68.58 376.72 C68.80 375.90 69.02 375.09 69.25 374.27 C69.48 373.46 69.72 372.66 69.97 371.85 C70.22 371.05 70.49 370.26 70.76 369.46 C71.03 368.67 71.31 367.88 71.59 367.10 C71.88 366.32 72.18 365.54 72.49 364.77 C72.79 363.99 73.11 363.22 73.43 362.46 C73.75 361.69 74.08 360.93 74.42 360.17 C74.76 359.41 75.10 358.66 75.46 357.91 C75.81 357.16 76.17 356.41 76.53 355.66 C76.90 354.92 77.27 354.18 77.65 353.44 C78.03 352.70 78.42 351.97 78.81 351.23 C79.20 350.50 79.60 349.77 80.00 349.04 C80.40 348.31 80.81 347.59 81.22 346.86 C81.63 346.14 82.05 345.42 82.47 344.70 C82.89 343.98 83.32 343.26 83.75 342.55 C84.18 341.83 84.62 341.12 85.05 340.40 C85.49 339.69 85.93 338.98 86.38 338.27 C86.82 337.56 87.27 336.85 87.72 336.14 C88.17 335.43 88.62 334.72 89.08 334.01 C89.53 333.31 89.99 332.60 90.45 331.89 C90.91 331.18 91.37 330.48 91.83 329.77 C92.30 329.07 92.76 328.36 93.23 327.65 C93.69 326.95 94.16 326.24 94.63 325.53 C95.09 324.83 95.56 324.12 96.03 323.42 C96.50 322.71 96.97 322.00 97.44 321.30 C97.92 320.59 98.39 319.88 98.86 319.18 C99.33 318.47 99.81 317.76 100.28 317.06 C100.75 316.35 101.23 315.64 101.70 314.93 C102.17 314.23 102.65 313.52 103.12 312.81 C103.59 312.10 104.07 311.39 104.54 310.68 C105.02 309.97 105.49 309.26 105.96 308.55 C106.43 307.84 106.91 307.13 107.38 306.42 C107.85 305.71 108.32 305.00 108.79 304.29 C109.26 303.58 109.73 302.86 110.20 302.15 C110.67 301.44 111.14 300.72 111.60 300.01 C112.07 299.30 112.54 298.58 113.00 297.87 C113.46 297.15 113.93 296.43 114.39 295.72 C114.85 295.00 115.31 294.28 115.77 293.56 C116.22 292.84 116.68 292.12 117.13 291.40 C117.59 290.68 118.04 289.96 118.49 289.24 C118.94 288.52 119.39 287.79 119.84 287.07 C120.28 286.35 120.72 285.62 121.17 284.89 C121.61 284.17 122.04 283.44 122.48 282.71 C122.92 281.98 123.35 281.25 123.78 280.52 C124.21 279.79 124.64 279.06 125.06 278.33 C125.49 277.60 125.91 276.86 126.33 276.13 C126.74 275.39 127.16 274.65 127.57 273.92 C127.98 273.18 128.39 272.44 128.79 271.70 C129.20 270.96 129.60 270.22 130.00 269.47 C130.39 268.73 130.79 267.98 131.18 267.24 C131.57 266.49 131.95 265.74 132.33 265.00 C132.71 264.25 133.09 263.50 133.46 262.74 C133.84 261.99 134.20 261.24 134.57 260.48 C134.93 259.73 135.29 258.97 135.64 258.21 C136.00 257.45 136.35 256.69 136.69 255.93 C137.04 255.17 137.38 254.40 137.71 253.64 C138.05 252.87 138.38 252.10 138.70 251.33 C139.03 250.56 139.34 249.79 139.66 249.02 C139.97 248.25 140.28 247.47 140.58 246.69 C140.88 245.92 141.18 245.14 141.47 244.36 C141.76 243.58 142.05 242.79 142.33 242.01 C142.61 241.22 142.88 240.44 143.15 239.65 C143.41 238.86 143.67 238.07 143.93 237.27 C144.18 236.48 144.43 235.68 144.67 234.88 C144.91 234.09 145.15 233.29 145.37 232.48 C145.60 231.68 145.82 230.88 146.04 230.07 C146.25 229.27 146.46 228.46 146.67 227.65 C146.87 226.84 147.07 226.02 147.26 225.21 C147.45 224.40 147.64 223.58 147.82 222.76 C148.00 221.94 148.17 221.12 148.34 220.30 C148.51 219.48 148.68 218.66 148.84 217.83 C149.00 217.01 149.15 216.18 149.30 215.36 C149.45 214.53 149.59 213.70 149.73 212.87 C149.87 212.04 150.01 211.21 150.14 210.37 C150.27 209.54 150.40 208.71 150.52 207.87 C150.64 207.04 150.76 206.20 150.87 205.36 C150.99 204.52 151.09 203.68 151.20 202.84 C151.31 202.00 151.41 201.16 151.51 200.32 C151.61 199.48 151.70 198.64 151.79 197.79 C151.88 196.95 151.97 196.10 152.05 195.26 C152.14 194.41 152.22 193.57 152.30 192.72 C152.38 191.87 152.45 191.02 152.53 190.18 C152.60 189.33 152.67 188.48 152.74 187.63 C152.80 186.78 152.87 185.93 152.93 185.08 C152.99 184.23 153.05 183.38 153.11 182.53 C153.17 181.68 153.23 180.83 153.28 179.98 C153.33 179.13 153.39 178.28 153.44 177.42 C153.49 176.57 153.54 175.72 153.58 174.87 C153.63 174.02 153.68 173.17 153.72 172.31 C153.76 171.46 153.81 170.61 153.85 169.76 C153.89 168.91 153.93 168.06 153.97 167.21 C154.01 166.35 154.05 165.50 154.09 164.65 C154.13 163.80 154.17 162.95 154.20 162.10 C154.24 161.25 154.28 160.40 154.31 159.56 C154.35 158.71 154.39 157.86 154.42 157.01 C154.46 156.16 154.49 155.32 154.53 154.47 C154.56 153.62 154.60 152.78 154.63 151.93 C154.66 151.09 154.69 150.24 154.72 149.40 C154.75 148.55 154.77 147.71 154.80 146.86 C154.82 146.02 154.85 145.18 154.87 144.34 C154.89 143.49 154.91 142.65 154.92 141.81 C154.94 140.97 154.95 140.13 154.96 139.29 C154.97 138.45 154.97 137.61 154.97 136.77 C154.98 135.94 154.98 135.10 154.97 134.26 C154.97 133.42 154.96 132.59 154.94 131.75 C154.93 130.92 154.91 130.08 154.89 129.25 C154.87 128.41 154.84 127.58 154.81 126.74 C154.78 125.91 154.74 125.08 154.70 124.25 C154.66 123.42 154.61 122.58 154.56 121.75 C154.51 120.92 154.45 120.09 154.38 119.27 C154.32 118.44 154.25 117.61 154.17 116.78 C154.09 115.95 154.01 115.13 153.92 114.30 C153.83 113.47 153.73 112.65 153.63 111.83 C153.52 111.00 153.41 110.18 153.29 109.35 C153.17 108.53 153.05 107.71 152.91 106.89 C152.78 106.07 152.64 105.25 152.49 104.43 C152.34 103.61 152.18 102.79 152.01 101.97 C151.84 101.15 151.67 100.34 151.48 99.52 C151.30 98.70 151.11 97.89 150.90 97.07 C150.70 96.26 150.49 95.44 150.27 94.63 C150.04 93.82 149.81 93.01 149.57 92.20 C149.33 91.38 149.08 90.57 148.82 89.76 C148.55 88.95 148.28 88.15 148.00 87.34 C147.72 86.53 147.42 85.72 147.12 84.92 C146.81 84.11 146.50 83.31 146.17 82.50 C145.84 81.70 145.50 80.90 145.15 80.09 C144.80 79.29 144.44 78.49 144.06 77.69 C143.69 76.89 143.10 75.69 142.90 75.29" stroke="#aa00c8"/>
<path d="M143.17 75.74 C143.40 76.10 144.11 77.19 144.55 77.93 C145.00 78.66 145.44 79.40 145.85 80.15 C146.27 80.89 146.68 81.64 147.07 82.40 C147.46 83.15 147.84 83.91 148.21 84.67 C148.57 85.43 148.93 86.20 149.27 86.97 C149.61 87.74 149.94 88.51 150.26 89.29 C150.57 90.06 150.88 90.84 151.18 91.63 C151.47 92.41 151.75 93.20 152.03 93.99 C152.30 94.78 152.57 95.57 152.82 96.37 C153.07 97.16 153.32 97.96 153.55 98.76 C153.79 99.56 154.01 100.37 154.23 101.17 C154.45 101.98 154.66 102.79 154.86 103.60 C155.06 104.41 155.26 105.22 155.44 106.04 C155.63 106.85 155.81 107.67 155.98 108.49 C156.15 109.31 156.32 110.13 156.48 110.95 C156.64 111.77 156.79 112.59 156.94 113.42 C157.09 114.24 157.23 115.07 157.37 115.89 C157.51 116.72 157.64 117.55 157.77 118.37 C157.90 119.20 158.03 120.03 158.15 120.86 C158.27 121.69 158.39 122.52 158.51 123.35 C158.62 124.18 158.74 125.01 158.85 125.84 C158.96 126.67 159.07 127.50 159.17 128.33 C159.28 129.16 159.38 129.99 159.48 130.83 C159.58 131.66 159.68 132.49 159.78 133.32 C159.88 134.15 159.97 134.98 160.06 135.82 C160.16 136.65 160.25 137.48 160.34 138.31 C160.43 139.15 160.51 139.98 160.60 140.81 C160.69 141.65 160.77 142.48 160.85 143.32 C160.94 144.15 161.02 144.99 161.10 145.82 C161.18 146.66 161.26 147.50 161.33 148.33 C161.41 149.17 161.49 150.01 161.56 150.85 C161.64 151.68 161.71 152.52 161.78 153.36 C161.86 154.20 161.93 155.04 162.00 155.88 C162.07 156.72 162.14 157.57 162.21 158.41 C162.28 159.25 162.35 160.09 162.42 160.94 C162.49 161.78 162.56 162.63 162.62 163.47 C162.69 164.32 162.76 165.16 162.83 166.01 C162.90 166.86 162.97 167.70 163.04 168.55 C163.11 169.39 163.18 170.24 163.26 171.09 C163.33 171.93 163.40 172.78 163.48 173.63 C163.56 174.47 163.63 175.32 163.71 176.17 C163.79 177.01 163.88 177.86 163.96 178.70 C164.05 179.55 164.13 180.39 164.23 181.24 C164.32 182.08 164.41 182.93 164.51 183.77 C164.60 184.61 164.70 185.45 164.81 186.30 C164.91 187.14 165.02 187.98 165.13 188.82 C165.25 189.66 165.36 190.49 165.49 191.33 C165.61 192.17 165.73 193.00 165.87 193.84 C166.00 194.67 166.13 195.50 166.28 196.33 C166.42 197.17 166.57 197.99 166.72 198.82 C166.87 199.65 167.03 200.48 167.20 201.30 C167.37 202.12 167.54 202.95 167.72 203.77 C167.90 204.59 168.08 205.41 168.28 206.22 C168.47 207.04 168.67 207.85 168.88 208.66 C169.09 209.47 169.30 210.28 169.53 211.09 C169.75 211.90 169.98 212.70 170.23 213.50 C170.47 214.30 170.72 215.10 170.97 215.90 C171.23 216.69 171.50 217.48 171.77 218.27 C172.05 219.06 172.34 219.85 172.63 220.63 C172.93 221.42 173.23 222.20 173.55 222.97 C173.86 223.75 174.18 224.52 174.52 225.29 C174.85 226.06 175.20 226.82 175.55 227.58 C175.90 228.34 176.27 229.09 176.64 229.84 C177.01 230.59 177.40 231.33 177.79 232.07 C178.19 232.81 178.59 233.54 179.00 234.26 C179.42 234.99 179.84 235.71 180.28 236.42 C180.71 237.13 181.16 237.84 181.61 238.53 C182.07 239.23 182.54 239.92 183.01 240.61 C183.49 241.29 183.98 241.96 184.48 242.63 C184.97 243.30 185.48 243.96 186.00 244.61 C186.52 245.26 187.05 245.90 187.60 246.53 C188.14 247.16 188.69 247.78 189.26 248.40 C189.82 249.01 190.40 249.61 190.98 250.20 C191.57 250.80 192.17 251.38 192.77 251.95 C193.38 252.53 194.00 253.09 194.63 253.64 C195.25 254.20 195.89 254.74 196.54 255.28 C197.18 255.81 197.84 256.34 198.50 256.85 C199.17 257.37 199.84 257.87 200.52 258.37 C201.20 258.87 201.89 259.35 202.58 259.83 C203.28 260.31 203.98 260.78 204.69 261.24 C205.40 261.70 206.11 262.15 206.83 262.60 C207.55 263.04 208.28 263.47 209.01 263.90 C209.74 264.32 210.48 264.74 211.23 265.14 C211.97 265.55 212.72 265.95 213.47 266.34 C214.22 266.73 214.97 267.11 215.73 267.48 C216.49 267.86 217.25 268.22 218.02 268.58 C218.79 268.94 219.56 269.29 220.33 269.63 C221.10 269.97 221.88 270.30 222.66 270.63 C223.44 270.95 224.22 271.27 225.00 271.58 C225.79 271.89 226.58 272.20 227.37 272.50 C228.16 272.79 228.95 273.08 229.75 273.37 C230.54 273.65 231.34 273.93 232.14 274.20 C232.94 274.47 233.74 274.73 234.55 274.99 C235.35 275.25 236.16 275.50 236.97 275.75 C237.77 276.00 238.58 276.24 239.40 276.47 C240.21 276.71 241.02 276.94 241.84 277.16 C242.65 277.39 243.47 277.61 244.28 277.82 C245.10 278.04 245.92 278.25 246.74 278.45 C247.56 278.66 248.38 278.86 249.20 279.05 C250.02 279.25 250.84 279.44 251.66 279.63 C252.49 279.82 253.31 280.00 254.13 280.18 C254.95 280.36 255.78 280.54 256.60 280.71 C257.43 280.88 258.25 281.05 259.07 281.22 C259.90 281.38 260.72 281.55 261.55 281.71 C262.37 281.87 263.20 282.02 264.03 282.18 C264.85 282.33 265.68 282.48 266.51 282.63 C267.33 282.78 268.16 282.93 268.99 283.08 C269.81 283.22 270.64 283.37 271.47 283.51 C272.30 283.65 273.13 283.79 273.95 283.93 C274.78 284.07 275.61 284.20 276.44 284.34 C277.27 284.48 278.10 284.61 278.93 284.74 C279.76 284.87 280.59 285.00 281.42 285.13 C282.25 285.26 283.08 285.39 283.91 285.51 C284.74 285.64 285.57 285.76 286.40 285.88 C287.23 286.01 288.06 286.13 288.89 286.25 C289.72 286.37 290.56 286.49 291.39 286.60 C292.22 286.72 293.05 286.83 293.88 286.95 C294.72 287.06 295.55 287.17 296.38 287.29 C297.22 287.40 298.05 287.51 298.88 287.61 C299.71 287.72 300.55 287.83 301.38 287.94 C302.22 288.04 303.05 288.15 303.88 288.25 C304.72 288.36 305.55 288.46 306.39 288.56 C307.22 288.66 308.06 288.76 308.89 288.86 C309.72 288.96 310.56 289.06 311.39 289.15 C312.23 289.25 313.07 289.35 313.90 289.44 C314.74 289.54 315.57 289.63 316.41 289.72 C317.24 289.82 318.08 289.91 318.92 290.00 C319.75 290.09 320.59 290.18 321.42 290.27 C322.26 290.36 323.10 290.45 323.93 290.53 C324.77 290.62 325.61 290.71 326.44 290.79 C327.28 290.88 328.12 290.96 328.96 291.05 C329.79 291.13 330.63 291.21 331.47 291.30 C332.30 291.38 333.14 291.46 333.98 291.54 C334.82 291.62 335.66 291.71 336.49 291.79 C337.33 291.87 338.17 291.94 339.01 292.02 C339.85 292.10 340.68 292.18 341.52 292.26 C342.36 292.34 343.20 292.41 344.04 292.49 C344.88 292.57 345.71 292.64 346.55 292.72 C347.39 292.79 348.23 292.87 349.07 292.94 C349.91 293.02 350.75 293.09 351.59 293.17 C352.42 293.24 353.26 293.31 354.10 293.39 C354.94 293.46 355.78 293.53 356.62 293.61 C357.46 293.68 358.30 293.75 359.14 293.82 C359.98 293.90 360.82 293.97 361.66 294.04 C362.50 294.11 363.33 294.18 364.17 294.25 C365.01 294.33 365.85 294.40 366.69 294.47 C367.53 294.54 368.37 294.61 369.21 294.68 C370.05 294.75 370.89 294.82 371.73 294.89 C372.57 294.97 373.41 295.04 374.25 295.11 C375.09 295.18 375.93 295.25 376.77 295.32 C377.61 295.39 378.45 295.46 379.29 295.53 C380.13 295.60 381.38 295.71 381.80 295.75" stroke="#aa00c8"/>
<path d="M67.52 439.82 C67.55 439.40 67.61 438.13 67.65 437.29 C67.70 436.45 67.75 435.60 67.80 434.76 C67.85 433.92 67.91 433.08 67.97 432.24 C68.02 431.40 68.09 430.56 68.15 429.72 C68.21 428.88 68.28 428.04 68.35 427.20 C68.42 426.36 68.50 425.53 68.58 424.69 C68.65 423.85 68.73 423.02 68.82 422.18 C68.90 421.34 68.98 420.51 69.07 419.67 C69.16 418.84 69.25 418.00 69.35 417.17 C69.44 416.33 69.54 415.50 69.64 414.67 C69.74 413.83 69.84 413.00 69.95 412.17 C70.05 411.34 70.16 410.50 70.27 409.67 C70.38 408.84 70.50 408.01 70.61 407.18 C70.73 406.35 70.85 405.52 70.97 404.69 C71.09 403.86 71.21 403.03 71.34 402.20 C71.47 401.37 71.60 400.54 71.73 399.72 C71.86 398.89 71.99 398.06 72.13 397.23 C72.27 396.41 72.41 395.58 72.55 394.76 C72.69 393.93 72.83 393.10 72.98 392.28 C73.12 391.45 73.27 390.63 73.42 389.80 C73.57 388.98 73.72 388.16 73.88 387.33 C74.03 386.51 74.19 385.69 74.35 384.86 C74.51 384.04 74.67 383.22 74.83 382.40 C75.00 381.57 75.16 380.75 75.33 379.93 C75.50 379.11 75.67 378.29 75.84 377.47 C76.01 376.65 76.19 375.83 76.36 375.01 C76.54 374.19 76.71 373.37 76.89 372.55 C77.07 371.73 77.26 370.91 77.44 370.09 C77.62 369.28 77.81 368.46 77.99 367.64 C78.18 366.82 78.37 366.01 78.56 365.19 C78.75 364.37 78.94 363.56 79.14 362.74 C79.33 361.92 79.52 361.11 79.72 360.29 C79.92 359.48 80.12 358.66 80.32 357.85 C80.52 357.03 80.72 356.22 80.92 355.40 C81.13 354.59 81.33 353.77 81.54 352.96 C81.74 352.15 81.95 351.33 82.16 350.52 C82.37 349.71 82.58 348.89 82.79 348.08 C83.01 347.27 83.22 346.46 83.43 345.64 C83.65 344.83 83.86 344.02 84.08 343.21 C84.30 342.40 84.52 341.59 84.74 340.78 C84.96 339.97 85.18 339.15 85.40 338.34 C85.62 337.53 85.85 336.72 86.07 335.91 C86.29 335.10 86.52 334.29 86.75 333.48 C86.97 332.68 87.20 331.87 87.43 331.06 C87.66 330.25 87.89 329.44 88.12 328.63 C88.35 327.82 88.58 327.01 88.81 326.21 C89.05 325.40 89.28 324.59 89.51 323.78 C89.75 322.98 89.98 322.17 90.22 321.36 C90.45 320.55 90.69 319.75 90.93 318.94 C91.17 318.13 91.40 317.33 91.64 316.52 C91.88 315.71 92.12 314.91 92.36 314.10 C92.60 313.30 92.84 312.49 93.08 311.68 C93.33 310.88 93.57 310.07 93.81 309.27 C94.05 308.46 94.30 307.66 94.54 306.85 C94.78 306.05 95.03 305.24 95.27 304.44 C95.52 303.63 95.76 302.83 96.01 302.02 C96.25 301.22 96.50 300.41 96.74 299.61 C96.99 298.81 97.23 298.00 97.48 297.20 C97.73 296.39 97.97 295.59 98.22 294.79 C98.47 293.98 98.72 293.18 98.96 292.38 C99.21 291.57 99.46 290.77 99.71 289.97 C99.96 289.17 100.21 288.36 100.46 287.56 C100.71 286.76 100.96 285.96 101.22 285.16 C101.47 284.35 101.72 283.55 101.97 282.75 C102.23 281.95 102.48 281.15 102.74 280.35 C103.00 279.55 103.25 278.75 103.51 277.96 C103.77 277.16 104.03 276.36 104.29 275.56 C104.55 274.76 104.82 273.97 105.08 273.17 C105.34 272.37 105.61 271.58 105.88 270.78 C106.14 269.99 106.41 269.19 106.68 268.40 C106.95 267.60 107.22 266.81 107.50 266.02 C107.77 265.23 108.05 264.44 108.32 263.64 C108.60 262.85 108.88 262.06 109.16 261.27 C109.44 260.49 109.73 259.70 110.01 258.91 C110.30 258.12 110.58 257.34 110.87 256.55 C111.16 255.76 111.46 254.98 111.75 254.20 C112.05 253.41 112.34 252.63 112.64 251.85 C112.94 251.07 113.24 250.29 113.55 249.51 C113.85 248.73 114.16 247.95 114.47 247.17 C114.78 246.39 115.09 245.62 115.41 244.84 C115.72 244.07 116.04 243.29 116.36 242.52 C116.68 241.75 117.01 240.98 117.33 240.21 C117.66 239.44 117.99 238.67 118.32 237.90 C118.66 237.14 118.99 236.37 119.33 235.60 C119.67 234.84 120.02 234.08 120.36 233.31 C120.71 232.55 121.06 231.79 121.41 231.03 C121.77 230.27 122.12 229.52 122.48 228.76 C122.84 228.00 123.21 227.25 123.58 226.50 C123.94 225.74 124.31 224.99 124.69 224.24 C125.06 223.48 125.44 222.73 125.82 221.97 C126.19 221.22 126.57 220.46 126.95 219.70 C127.33 218.93 127.72 218.17 128.10 217.40 C128.48 216.63 128.86 215.85 129.25 215.07 C129.63 214.29 130.00 213.49 130.40 212.73 C130.81 211.96 131.21 211.19 131.66 210.49 C132.11 209.80 132.58 209.12 133.13 208.55 C133.67 207.98 134.26 207.46 134.92 207.06 C135.58 206.66 136.31 206.36 137.07 206.14 C137.83 205.92 138.65 205.80 139.47 205.75 C140.29 205.70 141.16 205.75 142.01 205.84 C142.86 205.93 143.74 206.10 144.59 206.29 C145.45 206.47 146.30 206.70 147.13 206.94 C147.95 207.18 148.76 207.44 149.56 207.71 C150.36 207.97 151.14 208.26 151.92 208.55 C152.70 208.84 153.47 209.14 154.24 209.45 C155.02 209.75 155.78 210.06 156.55 210.37 C157.33 210.68 158.10 211.00 158.89 211.30 C159.67 211.61 160.45 211.91 161.25 212.19 C162.04 212.47 162.83 212.75 163.64 212.99 C164.44 213.23 165.25 213.45 166.07 213.64 C166.88 213.83 167.71 214.00 168.53 214.14 C169.36 214.29 170.19 214.41 171.02 214.52 C171.85 214.63 172.69 214.72 173.52 214.80 C174.36 214.89 175.20 214.96 176.04 215.03 C176.87 215.10 177.71 215.16 178.55 215.21 C179.39 215.26 180.22 215.31 181.06 215.35 C181.90 215.39 182.74 215.42 183.58 215.45 C184.42 215.48 185.25 215.50 186.09 215.52 C186.93 215.54 187.77 215.55 188.61 215.56 C189.45 215.57 190.29 215.57 191.13 215.57 C191.97 215.57 192.81 215.56 193.65 215.55 C194.49 215.55 195.33 215.53 196.17 215.52 C197.01 215.50 197.85 215.48 198.69 215.46 C199.53 215.44 200.37 215.42 201.21 215.40 C202.05 215.37 202.89 215.34 203.73 215.32 C204.57 215.29 205.41 215.26 206.25 215.23 C207.09 215.20 207.93 215.17 208.76 215.13 C209.60 215.10 210.44 215.07 211.28 215.03 C212.12 215.00 212.96 214.96 213.80 214.92 C214.64 214.89 215.48 214.85 216.32 214.81 C217.16 214.77 217.99 214.73 218.83 214.69 C219.67 214.65 220.51 214.61 221.35 214.56 C222.19 214.52 223.03 214.47 223.86 214.43 C224.70 214.38 225.54 214.33 226.38 214.28 C227.22 214.23 228.06 214.18 228.89 214.13 C229.73 214.08 230.57 214.03 231.41 213.98 C232.24 213.92 233.08 213.87 233.92 213.81 C234.76 213.76 235.59 213.70 236.43 213.64 C237.27 213.58 238.11 213.52 238.94 213.46 C239.78 213.40 240.62 213.33 241.45 213.27 C242.29 213.21 243.13 213.14 243.96 213.07 C244.80 213.01 245.64 212.94 246.47 212.87 C247.31 212.80 248.15 212.73 248.98 212.66 C249.82 212.59 250.65 212.52 251.49 212.44 C252.33 212.37 253.16 212.29 254.00 212.22 C254.83 212.14 255.67 212.07 256.51 211.99 C257.34 211.91 258.18 211.83 259.01 211.75 C259.85 211.67 260.68 211.59 261.52 211.51 C262.35 211.43 263.19 211.35 264.02 211.26 C264.86 211.18 265.69 211.10 266.53 211.01 C267.36 210.93 268.20 210.84 269.03 210.76 C269.87 210.67 270.70 210.58 271.54 210.49 C272.37 210.41 273.21 210.32 274.04 210.23 C274.88 210.14 275.71 210.05 276.55 209.96 C277.38 209.87 278.22 209.78 279.05 209.69 C279.89 209.60 280.72 209.51 281.56 209.41 C282.39 209.32 283.22 209.23 284.06 209.13 C284.89 209.04 285.73 208.95 286.56 208.85 C287.40 208.76 288.23 208.67 289.06 208.57 C289.90 208.48 290.73 208.38 291.57 208.29 C292.40 208.19 293.24 208.10 294.07 208.00 C294.90 207.91 295.74 207.81 296.57 207.71 C297.41 207.62 298.24 207.52 299.08 207.43 C299.91 207.33 300.74 207.23 301.58 207.14 C302.41 207.04 303.25 206.94 304.08 206.85 C304.92 206.75 305.75 206.65 306.58 206.56 C307.42 206.46 308.25 206.37 309.09 206.27 C309.92 206.17 310.75 206.08 311.59 205.98 C312.42 205.89 313.26 205.79 314.09 205.69 C314.93 205.60 315.76 205.50 316.59 205.41 C317.43 205.31 318.26 205.22 319.10 205.12 C319.93 205.03 320.77 204.94 321.60 204.84 C322.43 204.75 323.27 204.65 324.10 204.56 C324.94 204.47 325.77 204.38 326.61 204.28 C327.44 204.19 328.28 204.10 329.11 204.01 C329.95 203.92 330.78 203.83 331.62 203.74 C332.45 203.65 333.29 203.56 334.12 203.47 C334.95 203.38 335.79 203.29 336.62 203.20 C337.46 203.12 338.29 203.03 339.13 202.94 C339.97 202.86 340.80 202.77 341.64 202.69 C342.47 202.60 343.31 202.52 344.14 202.44 C344.98 202.35 345.81 202.27 346.65 202.19 C347.48 202.11 348.32 202.03 349.16 201.95 C349.99 201.87 350.83 201.79 351.66 201.72 C352.50 201.64 353.33 201.56 354.17 201.49 C355.01 201.41 355.84 201.34 356.68 201.26 C357.52 201.19 358.35 201.12 359.19 201.05 C360.02 200.98 360.86 200.91 361.70 200.84 C362.53 200.77 363.37 200.70 364.21 200.64 C365.04 200.57 365.88 200.50 366.72 200.44 C367.56 200.38 368.39 200.32 369.23 200.25 C370.07 200.19 370.91 200.13 371.74 200.08 C372.58 200.02 373.42 199.96 374.26 199.91 C375.09 199.85 375.93 199.80 376.77 199.74 C377.61 199.69 378.45 199.64 379.28 199.59 C380.12 199.54 381.38 199.47 381.80 199.45" stroke="#ff0000"/>
<path d="M57.77 439.81 C57.81 439.40 57.93 438.14 58.01 437.30 C58.09 436.47 58.17 435.63 58.26 434.80 C58.34 433.96 58.43 433.12 58.52 432.29 C58.60 431.45 58.69 430.62 58.79 429.78 C58.88 428.95 58.97 428.11 59.06 427.28 C59.16 426.45 59.26 425.61 59.35 424.78 C59.45 423.94 59.55 423.11 59.65 422.28 C59.75 421.44 59.86 420.61 59.96 419.78 C60.07 418.95 60.17 418.11 60.28 417.28 C60.39 416.45 60.50 415.62 60.61 414.78 C60.72 413.95 60.83 413.12 60.95 412.29 C61.06 411.46 61.18 410.63 61.30 409.80 C61.41 408.97 61.53 408.14 61.65 407.31 C61.78 406.48 61.90 405.65 62.02 404.82 C62.15 403.99 62.27 403.16 62.40 402.33 C62.53 401.50 62.66 400.67 62.79 399.84 C62.92 399.01 63.05 398.19 63.18 397.36 C63.32 396.53 63.45 395.70 63.59 394.87 C63.72 394.05 63.86 393.22 64.00 392.39 C64.14 391.57 64.28 390.74 64.43 389.91 C64.57 389.09 64.72 388.26 64.86 387.44 C65.01 386.61 65.16 385.79 65.31 384.96 C65.45 384.13 65.61 383.31 65.76 382.49 C65.91 381.66 66.06 380.84 66.22 380.01 C66.38 379.19 66.53 378.37 66.69 377.54 C66.85 376.72 67.01 375.90 67.17 375.07 C67.33 374.25 67.50 373.43 67.66 372.61 C67.83 371.78 67.99 370.96 68.16 370.14 C68.33 369.32 68.50 368.50 68.67 367.68 C68.84 366.86 69.01 366.04 69.18 365.22 C69.36 364.40 69.53 363.58 69.71 362.76 C69.88 361.94 70.06 361.12 70.24 360.30 C70.42 359.48 70.60 358.66 70.79 357.84 C70.97 357.02 71.15 356.21 71.34 355.39 C71.52 354.57 71.71 353.75 71.90 352.94 C72.09 352.12 72.28 351.30 72.47 350.49 C72.66 349.67 72.85 348.85 73.05 348.04 C73.24 347.22 73.44 346.41 73.63 345.59 C73.83 344.78 74.03 343.96 74.23 343.15 C74.43 342.33 74.63 341.52 74.83 340.71 C75.04 339.89 75.24 339.08 75.45 338.26 C75.65 337.45 75.86 336.64 76.07 335.83 C76.27 335.01 76.48 334.20 76.70 333.39 C76.91 332.58 77.12 331.77 77.33 330.96 C77.55 330.14 77.76 329.33 77.98 328.52 C78.20 327.71 78.42 326.90 78.64 326.09 C78.85 325.28 79.08 324.47 79.30 323.67 C79.52 322.86 79.74 322.05 79.97 321.24 C80.20 320.43 80.42 319.62 80.65 318.82 C80.88 318.01 81.11 317.20 81.34 316.40 C81.57 315.59 81.80 314.78 82.04 313.98 C82.27 313.17 82.51 312.37 82.74 311.56 C82.98 310.76 83.22 309.95 83.46 309.15 C83.70 308.34 83.94 307.54 84.18 306.74 C84.43 305.93 84.67 305.13 84.92 304.33 C85.16 303.53 85.41 302.72 85.66 301.92 C85.91 301.12 86.16 300.32 86.41 299.52 C86.67 298.72 86.92 297.92 87.17 297.12 C87.43 296.32 87.69 295.52 87.94 294.73 C88.20 293.93 88.46 293.13 88.72 292.33 C88.99 291.53 89.25 290.74 89.51 289.94 C89.78 289.15 90.05 288.35 90.31 287.55 C90.58 286.76 90.85 285.97 91.12 285.17 C91.39 284.38 91.67 283.58 91.94 282.79 C92.22 282.00 92.49 281.21 92.77 280.41 C93.05 279.62 93.33 278.83 93.61 278.04 C93.89 277.25 94.17 276.46 94.46 275.67 C94.74 274.88 95.03 274.09 95.31 273.31 C95.60 272.52 95.89 271.73 96.18 270.94 C96.47 270.16 96.77 269.37 97.06 268.58 C97.36 267.80 97.65 267.01 97.95 266.23 C98.25 265.45 98.55 264.66 98.85 263.88 C99.15 263.10 99.45 262.31 99.76 261.53 C100.06 260.75 100.37 259.97 100.68 259.19 C100.99 258.41 101.30 257.63 101.61 256.85 C101.92 256.07 102.23 255.29 102.55 254.52 C102.87 253.74 103.18 252.96 103.50 252.19 C103.82 251.41 104.14 250.64 104.47 249.86 C104.79 249.09 105.11 248.31 105.44 247.54 C105.76 246.77 106.09 245.99 106.42 245.22 C106.75 244.45 107.08 243.68 107.41 242.91 C107.74 242.14 108.07 241.36 108.40 240.59 C108.72 239.82 109.05 239.05 109.38 238.28 C109.70 237.51 110.03 236.73 110.35 235.96 C110.67 235.19 111.00 234.41 111.31 233.64 C111.63 232.86 111.94 232.09 112.25 231.31 C112.56 230.53 112.87 229.75 113.17 228.97 C113.48 228.19 113.77 227.41 114.07 226.63 C114.36 225.84 114.65 225.06 114.96 224.28 C115.26 223.50 115.56 222.72 115.89 221.95 C116.22 221.17 116.55 220.40 116.92 219.64 C117.29 218.88 117.67 218.13 118.09 217.39 C118.51 216.65 118.96 215.89 119.46 215.20 C119.95 214.51 120.48 213.81 121.07 213.23 C121.66 212.65 122.29 212.10 122.99 211.70 C123.68 211.30 124.46 211.04 125.25 210.82 C126.04 210.61 126.90 210.53 127.74 210.40 C128.57 210.28 129.42 210.19 130.25 210.09 C131.09 209.99 131.93 209.90 132.77 209.82 C133.61 209.73 134.45 209.65 135.29 209.56 C136.13 209.48 136.97 209.40 137.80 209.31 C138.64 209.22 139.48 209.13 140.31 209.03 C141.14 208.93 141.97 208.83 142.80 208.71 C143.63 208.59 144.45 208.46 145.28 208.32 C146.10 208.17 146.92 208.01 147.73 207.83 C148.55 207.66 149.36 207.46 150.16 207.24 C150.97 207.02 151.77 206.78 152.57 206.53 C153.37 206.27 154.16 206.00 154.96 205.72 C155.75 205.44 156.54 205.14 157.33 204.85 C158.12 204.55 158.91 204.25 159.70 203.95 C160.49 203.65 161.28 203.35 162.08 203.06 C162.87 202.78 163.66 202.49 164.46 202.22 C165.26 201.95 166.06 201.70 166.86 201.46 C167.67 201.21 168.48 200.99 169.29 200.77 C170.10 200.55 170.91 200.34 171.72 200.15 C172.54 199.95 173.35 199.76 174.17 199.58 C174.99 199.40 175.81 199.23 176.63 199.07 C177.45 198.90 178.28 198.74 179.10 198.59 C179.92 198.43 180.75 198.28 181.57 198.14 C182.40 197.99 183.23 197.84 184.05 197.70 C184.88 197.56 185.70 197.41 186.53 197.27 C187.36 197.13 188.18 197.00 189.01 196.86 C189.84 196.72 190.67 196.59 191.49 196.45 C192.32 196.32 193.15 196.19 193.98 196.06 C194.81 195.93 195.63 195.80 196.46 195.67 C197.29 195.55 198.12 195.42 198.95 195.30 C199.78 195.17 200.61 195.05 201.44 194.93 C202.27 194.81 203.10 194.69 203.93 194.57 C204.76 194.45 205.59 194.34 206.42 194.22 C207.25 194.11 208.08 193.99 208.91 193.88 C209.74 193.77 210.57 193.65 211.40 193.54 C212.24 193.43 213.07 193.33 213.90 193.22 C214.73 193.11 215.56 193.00 216.39 192.90 C217.23 192.79 218.06 192.69 218.89 192.59 C219.72 192.48 220.56 192.38 221.39 192.28 C222.22 192.18 223.06 192.08 223.89 191.98 C224.72 191.88 225.55 191.78 226.39 191.69 C227.22 191.59 228.06 191.49 228.89 191.40 C229.72 191.31 230.56 191.21 231.39 191.12 C232.22 191.03 233.06 190.93 233.89 190.84 C234.73 190.75 235.56 190.66 236.40 190.57 C237.23 190.48 238.06 190.39 238.90 190.30 C239.73 190.22 240.57 190.13 241.40 190.04 C242.24 189.96 243.07 189.87 243.91 189.78 C244.74 189.70 245.58 189.61 246.41 189.53 C247.25 189.45 248.08 189.36 248.92 189.28 C249.75 189.20 250.59 189.11 251.42 189.03 C252.26 188.95 253.09 188.87 253.93 188.79 C254.76 188.71 255.60 188.63 256.44 188.55 C257.27 188.47 258.11 188.39 258.94 188.31 C259.78 188.23 260.61 188.15 261.45 188.07 C262.28 187.99 263.12 187.92 263.95 187.84 C264.79 187.76 265.63 187.68 266.46 187.60 C267.30 187.53 268.13 187.45 268.97 187.37 C269.80 187.30 270.64 187.22 271.47 187.14 C272.31 187.07 273.15 186.99 273.98 186.91 C274.82 186.84 275.65 186.76 276.49 186.69 C277.32 186.61 278.16 186.54 278.99 186.46 C279.83 186.39 280.67 186.31 281.50 186.24 C282.34 186.16 283.17 186.09 284.01 186.01 C284.84 185.94 285.68 185.86 286.51 185.79 C287.35 185.72 288.19 185.64 289.02 185.57 C289.86 185.50 290.69 185.42 291.53 185.35 C292.36 185.28 293.20 185.20 294.03 185.13 C294.87 185.06 295.70 184.98 296.54 184.91 C297.38 184.84 298.21 184.77 299.05 184.69 C299.88 184.62 300.72 184.55 301.55 184.48 C302.39 184.41 303.23 184.33 304.06 184.26 C304.90 184.19 305.73 184.12 306.57 184.05 C307.40 183.98 308.24 183.90 309.07 183.83 C309.91 183.76 310.75 183.69 311.58 183.62 C312.42 183.55 313.25 183.48 314.09 183.41 C314.92 183.34 315.76 183.27 316.60 183.19 C317.43 183.12 318.27 183.05 319.10 182.98 C319.94 182.91 320.77 182.84 321.61 182.77 C322.44 182.70 323.28 182.63 324.12 182.56 C324.95 182.49 325.79 182.42 326.62 182.35 C327.46 182.28 328.29 182.21 329.13 182.14 C329.97 182.07 330.80 182.00 331.64 181.93 C332.47 181.86 333.31 181.79 334.15 181.72 C334.98 181.65 335.82 181.58 336.65 181.51 C337.49 181.44 338.32 181.38 339.16 181.31 C340.00 181.24 340.83 181.17 341.67 181.10 C342.50 181.03 343.34 180.96 344.18 180.89 C345.01 180.82 345.85 180.75 346.68 180.68 C347.52 180.61 348.35 180.54 349.19 180.47 C350.03 180.40 350.86 180.33 351.70 180.26 C352.53 180.19 353.37 180.12 354.21 180.05 C355.04 179.99 355.88 179.92 356.71 179.85 C357.55 179.78 358.39 179.71 359.22 179.64 C360.06 179.57 360.90 179.50 361.73 179.43 C362.57 179.36 363.40 179.29 364.24 179.22 C365.08 179.15 365.91 179.08 366.75 179.01 C367.58 178.94 368.42 178.87 369.26 178.80 C370.09 178.73 370.93 178.66 371.77 178.59 C372.60 178.52 373.44 178.45 374.27 178.38 C375.11 178.31 375.95 178.24 376.78 178.17 C377.62 178.10 378.46 178.03 379.29 177.96 C380.13 177.88 381.38 177.78 381.80 177.74" stroke="#ff8000"/>
<path d="M70.13 439.86 C70.19 439.44 70.35 438.18 70.46 437.35 C70.58 436.51 70.70 435.67 70.83 434.84 C70.95 434.01 71.08 433.17 71.22 432.34 C71.35 431.51 71.49 430.68 71.64 429.85 C71.78 429.01 71.93 428.19 72.09 427.36 C72.24 426.53 72.40 425.70 72.57 424.88 C72.73 424.05 72.90 423.22 73.08 422.40 C73.25 421.58 73.43 420.75 73.61 419.93 C73.80 419.11 73.99 418.29 74.18 417.47 C74.37 416.65 74.57 415.84 74.77 415.02 C74.98 414.20 75.18 413.39 75.40 412.58 C75.61 411.76 75.82 410.95 76.04 410.14 C76.27 409.33 76.49 408.52 76.72 407.71 C76.95 406.90 77.19 406.10 77.43 405.29 C77.67 404.49 77.91 403.68 78.16 402.88 C78.41 402.08 78.66 401.28 78.92 400.48 C79.17 399.68 79.44 398.88 79.70 398.09 C79.97 397.29 80.24 396.50 80.51 395.71 C80.79 394.91 81.07 394.12 81.35 393.34 C81.64 392.55 81.92 391.76 82.22 390.97 C82.51 390.19 82.81 389.40 83.11 388.62 C83.41 387.84 83.71 387.06 84.02 386.28 C84.33 385.50 84.64 384.73 84.96 383.95 C85.28 383.18 85.60 382.41 85.92 381.63 C86.25 380.86 86.58 380.09 86.91 379.33 C87.24 378.56 87.58 377.79 87.92 377.03 C88.26 376.26 88.60 375.50 88.95 374.74 C89.30 373.97 89.65 373.21 90.00 372.45 C90.35 371.70 90.71 370.94 91.07 370.18 C91.43 369.43 91.79 368.67 92.16 367.92 C92.53 367.16 92.90 366.41 93.27 365.66 C93.64 364.91 94.02 364.16 94.39 363.41 C94.77 362.66 95.15 361.92 95.53 361.17 C95.92 360.43 96.30 359.68 96.69 358.94 C97.08 358.19 97.47 357.45 97.86 356.71 C98.25 355.97 98.65 355.23 99.05 354.49 C99.44 353.75 99.84 353.01 100.24 352.27 C100.65 351.54 101.05 350.80 101.45 350.06 C101.86 349.33 102.27 348.59 102.68 347.86 C103.08 347.13 103.50 346.39 103.91 345.66 C104.32 344.93 104.73 344.20 105.15 343.47 C105.56 342.74 105.98 342.01 106.40 341.28 C106.82 340.55 107.24 339.82 107.66 339.09 C108.08 338.36 108.50 337.63 108.92 336.91 C109.34 336.18 109.76 335.45 110.18 334.72 C110.60 334.00 111.03 333.27 111.45 332.54 C111.87 331.81 112.29 331.09 112.72 330.36 C113.14 329.63 113.56 328.91 113.98 328.18 C114.40 327.45 114.82 326.72 115.24 325.99 C115.66 325.27 116.08 324.54 116.50 323.81 C116.92 323.08 117.34 322.35 117.75 321.62 C118.17 320.89 118.58 320.16 118.99 319.43 C119.41 318.70 119.82 317.96 120.23 317.23 C120.64 316.50 121.04 315.76 121.45 315.03 C121.85 314.29 122.26 313.56 122.66 312.82 C123.06 312.08 123.46 311.35 123.85 310.61 C124.25 309.87 124.64 309.13 125.03 308.38 C125.42 307.64 125.81 306.90 126.19 306.15 C126.57 305.41 126.95 304.66 127.33 303.91 C127.71 303.16 128.08 302.41 128.45 301.66 C128.82 300.91 129.18 300.16 129.54 299.40 C129.91 298.65 130.26 297.89 130.62 297.13 C130.97 296.37 131.32 295.61 131.66 294.84 C132.01 294.08 132.34 293.31 132.68 292.55 C133.01 291.78 133.34 291.01 133.67 290.24 C134.00 289.46 134.32 288.69 134.64 287.91 C134.95 287.14 135.27 286.36 135.57 285.58 C135.88 284.80 136.19 284.02 136.48 283.24 C136.78 282.45 137.08 281.67 137.37 280.88 C137.66 280.09 137.95 279.30 138.23 278.51 C138.51 277.72 138.79 276.93 139.06 276.14 C139.34 275.34 139.60 274.55 139.87 273.75 C140.13 272.96 140.39 272.16 140.65 271.36 C140.91 270.56 141.16 269.76 141.41 268.96 C141.66 268.15 141.90 267.35 142.14 266.54 C142.38 265.74 142.61 264.93 142.85 264.13 C143.08 263.32 143.30 262.51 143.53 261.70 C143.75 260.89 143.97 260.08 144.18 259.27 C144.40 258.45 144.61 257.64 144.82 256.83 C145.02 256.01 145.23 255.20 145.43 254.38 C145.62 253.56 145.82 252.75 146.01 251.93 C146.20 251.11 146.39 250.29 146.57 249.47 C146.75 248.65 146.93 247.83 147.11 247.01 C147.28 246.19 147.46 245.36 147.62 244.54 C147.79 243.72 147.95 242.90 148.11 242.07 C148.27 241.25 148.43 240.42 148.58 239.60 C148.73 238.77 148.88 237.95 149.03 237.12 C149.17 236.29 149.31 235.47 149.45 234.64 C149.59 233.81 149.72 232.98 149.85 232.16 C149.98 231.33 150.11 230.50 150.23 229.67 C150.35 228.84 150.47 228.01 150.59 227.18 C150.71 226.35 150.82 225.52 150.93 224.69 C151.04 223.86 151.15 223.02 151.25 222.19 C151.35 221.36 151.45 220.53 151.55 219.70 C151.65 218.86 151.74 218.03 151.83 217.20 C151.92 216.36 152.01 215.53 152.10 214.69 C152.18 213.86 152.27 213.03 152.35 212.19 C152.43 211.36 152.50 210.52 152.58 209.69 C152.65 208.85 152.72 208.01 152.79 207.18 C152.86 206.34 152.93 205.50 152.99 204.67 C153.06 203.83 153.12 202.99 153.18 202.16 C153.24 201.32 153.29 200.48 153.35 199.64 C153.40 198.81 153.46 197.97 153.51 197.13 C153.56 196.29 153.61 195.45 153.65 194.61 C153.70 193.77 153.74 192.93 153.78 192.10 C153.83 191.26 153.87 190.42 153.90 189.58 C153.94 188.74 153.98 187.90 154.01 187.06 C154.05 186.22 154.08 185.38 154.11 184.54 C154.14 183.70 154.17 182.86 154.20 182.01 C154.23 181.17 154.25 180.33 154.28 179.49 C154.30 178.65 154.33 177.81 154.35 176.97 C154.37 176.13 154.39 175.29 154.41 174.44 C154.43 173.60 154.45 172.76 154.46 171.92 C154.48 171.08 154.49 170.24 154.51 169.40 C154.52 168.55 154.54 167.71 154.55 166.87 C154.56 166.03 154.57 165.19 154.58 164.35 C154.59 163.50 154.60 162.66 154.61 161.82 C154.62 160.98 154.63 160.14 154.63 159.29 C154.64 158.45 154.65 157.61 154.65 156.77 C154.66 155.93 154.66 155.09 154.67 154.24 C154.67 153.40 154.67 152.56 154.68 151.72 C154.68 150.88 154.68 150.04 154.69 149.19 C154.69 148.35 154.69 147.51 154.69 146.67 C154.70 145.83 154.70 144.99 154.70 144.15 C154.70 143.31 154.70 142.47 154.70 141.63 C154.70 140.78 154.70 139.94 154.70 139.10 C154.70 138.26 154.70 137.42 154.69 136.58 C154.69 135.75 154.68 134.91 154.67 134.07 C154.66 133.23 154.65 132.39 154.63 131.55 C154.62 130.71 154.60 129.88 154.58 129.04 C154.56 128.20 154.54 127.37 154.51 126.53 C154.48 125.70 154.45 124.86 154.42 124.03 C154.38 123.19 154.34 122.36 154.29 121.53 C154.25 120.69 154.20 119.86 154.14 119.03 C154.09 118.20 154.03 117.37 153.96 116.54 C153.89 115.71 153.82 114.88 153.74 114.05 C153.66 113.23 153.58 112.40 153.48 111.57 C153.39 110.75 153.29 109.92 153.19 109.10 C153.08 108.28 152.97 107.46 152.84 106.63 C152.72 105.81 152.59 104.99 152.45 104.17 C152.32 103.36 152.17 102.54 152.01 101.72 C151.86 100.91 151.69 100.09 151.52 99.28 C151.35 98.47 151.16 97.65 150.97 96.84 C150.78 96.03 150.58 95.23 150.36 94.42 C150.15 93.61 149.92 92.81 149.69 92.00 C149.45 91.20 149.21 90.39 148.95 89.59 C148.69 88.79 148.43 87.99 148.15 87.20 C147.87 86.40 147.57 85.60 147.27 84.81 C146.96 84.02 146.65 83.22 146.32 82.43 C145.99 81.64 145.64 80.86 145.29 80.07 C144.93 79.28 144.56 78.50 144.18 77.72 C143.79 76.94 143.18 75.77 142.98 75.38" stroke="#0000ff"/>
<path d="M143.16 75.33 C143.39 75.70 144.12 76.80 144.57 77.53 C145.03 78.27 145.46 79.02 145.89 79.77 C146.31 80.51 146.71 81.27 147.10 82.03 C147.49 82.78 147.86 83.55 148.22 84.31 C148.58 85.08 148.92 85.85 149.25 86.63 C149.58 87.40 149.89 88.18 150.19 88.97 C150.49 89.75 150.78 90.54 151.05 91.33 C151.33 92.12 151.59 92.91 151.84 93.71 C152.09 94.50 152.32 95.31 152.55 96.11 C152.78 96.91 152.99 97.72 153.19 98.53 C153.40 99.34 153.59 100.15 153.77 100.96 C153.96 101.78 154.13 102.59 154.29 103.41 C154.46 104.23 154.61 105.05 154.76 105.87 C154.90 106.70 155.04 107.52 155.17 108.35 C155.30 109.17 155.42 110.00 155.54 110.83 C155.65 111.66 155.76 112.49 155.86 113.32 C155.97 114.15 156.06 114.98 156.15 115.82 C156.24 116.65 156.33 117.49 156.41 118.32 C156.49 119.15 156.56 119.99 156.63 120.83 C156.70 121.66 156.77 122.50 156.83 123.33 C156.90 124.17 156.96 125.00 157.02 125.84 C157.07 126.68 157.13 127.51 157.18 128.35 C157.23 129.18 157.28 130.02 157.33 130.85 C157.38 131.69 157.42 132.52 157.46 133.36 C157.50 134.19 157.54 135.03 157.58 135.86 C157.62 136.70 157.65 137.53 157.69 138.37 C157.72 139.20 157.75 140.04 157.78 140.87 C157.81 141.71 157.84 142.54 157.87 143.38 C157.89 144.21 157.92 145.05 157.94 145.88 C157.96 146.72 157.98 147.56 158.00 148.39 C158.02 149.23 158.04 150.07 158.06 150.90 C158.08 151.74 158.09 152.58 158.11 153.41 C158.12 154.25 158.14 155.09 158.15 155.93 C158.16 156.77 158.18 157.61 158.19 158.44 C158.20 159.28 158.21 160.12 158.22 160.96 C158.23 161.80 158.24 162.64 158.25 163.49 C158.26 164.33 158.27 165.17 158.28 166.01 C158.29 166.85 158.29 167.70 158.30 168.54 C158.31 169.38 158.32 170.23 158.33 171.07 C158.34 171.92 158.34 172.76 158.35 173.61 C158.36 174.46 158.37 175.30 158.38 176.15 C158.39 177.00 158.40 177.85 158.41 178.70 C158.42 179.55 158.43 180.39 158.45 181.24 C158.46 182.09 158.47 182.95 158.49 183.80 C158.50 184.65 158.52 185.50 158.54 186.35 C158.55 187.20 158.57 188.05 158.60 188.90 C158.62 189.76 158.64 190.61 158.67 191.46 C158.69 192.31 158.72 193.16 158.75 194.01 C158.79 194.87 158.82 195.72 158.86 196.57 C158.89 197.42 158.93 198.27 158.98 199.12 C159.02 199.97 159.07 200.82 159.12 201.67 C159.17 202.52 159.22 203.37 159.28 204.22 C159.33 205.06 159.39 205.91 159.46 206.76 C159.53 207.60 159.60 208.45 159.67 209.29 C159.74 210.14 159.82 210.98 159.91 211.83 C159.99 212.67 160.08 213.51 160.17 214.35 C160.26 215.19 160.36 216.03 160.47 216.87 C160.57 217.71 160.68 218.55 160.80 219.38 C160.91 220.22 161.03 221.05 161.16 221.88 C161.29 222.72 161.42 223.55 161.56 224.38 C161.70 225.21 161.84 226.04 161.99 226.86 C162.15 227.69 162.31 228.51 162.47 229.33 C162.64 230.16 162.81 230.98 162.99 231.79 C163.17 232.61 163.36 233.43 163.55 234.24 C163.75 235.06 163.95 235.87 164.16 236.68 C164.37 237.49 164.59 238.30 164.82 239.10 C165.05 239.91 165.28 240.71 165.52 241.51 C165.77 242.31 166.02 243.11 166.28 243.90 C166.54 244.70 166.81 245.49 167.09 246.28 C167.37 247.07 167.66 247.86 167.96 248.64 C168.25 249.42 168.56 250.21 168.88 250.98 C169.19 251.76 169.52 252.53 169.85 253.30 C170.19 254.07 170.53 254.84 170.88 255.60 C171.24 256.36 171.60 257.12 171.97 257.87 C172.34 258.62 172.73 259.37 173.12 260.11 C173.51 260.85 173.91 261.59 174.32 262.32 C174.73 263.05 175.15 263.77 175.58 264.49 C176.00 265.21 176.44 265.92 176.89 266.63 C177.34 267.34 177.80 268.04 178.26 268.73 C178.73 269.42 179.21 270.11 179.69 270.78 C180.18 271.46 180.68 272.13 181.18 272.79 C181.69 273.46 182.20 274.11 182.73 274.76 C183.25 275.40 183.79 276.04 184.33 276.67 C184.88 277.30 185.43 277.92 185.99 278.53 C186.56 279.14 187.13 279.74 187.72 280.33 C188.30 280.92 188.89 281.51 189.50 282.08 C190.10 282.65 190.71 283.21 191.33 283.76 C191.96 284.31 192.59 284.86 193.23 285.39 C193.87 285.92 194.53 286.43 195.19 286.94 C195.85 287.45 196.52 287.95 197.20 288.44 C197.88 288.92 198.57 289.40 199.26 289.87 C199.96 290.33 200.66 290.79 201.37 291.24 C202.08 291.68 202.80 292.12 203.53 292.55 C204.25 292.98 204.98 293.39 205.72 293.80 C206.45 294.21 207.20 294.61 207.95 295.00 C208.69 295.39 209.45 295.77 210.21 296.15 C210.96 296.52 211.73 296.88 212.49 297.24 C213.26 297.59 214.03 297.94 214.80 298.28 C215.58 298.62 216.36 298.95 217.14 299.27 C217.92 299.59 218.70 299.91 219.49 300.22 C220.27 300.52 221.06 300.82 221.85 301.12 C222.65 301.41 223.44 301.69 224.24 301.97 C225.04 302.25 225.84 302.52 226.64 302.79 C227.44 303.05 228.25 303.31 229.06 303.56 C229.86 303.81 230.67 304.06 231.48 304.30 C232.30 304.54 233.11 304.77 233.93 305.00 C234.74 305.22 235.56 305.45 236.38 305.66 C237.20 305.88 238.02 306.09 238.84 306.30 C239.66 306.50 240.49 306.70 241.31 306.90 C242.14 307.10 242.97 307.29 243.79 307.47 C244.62 307.66 245.45 307.84 246.28 308.02 C247.11 308.20 247.94 308.37 248.78 308.54 C249.61 308.71 250.44 308.88 251.28 309.04 C252.11 309.21 252.94 309.37 253.78 309.52 C254.61 309.68 255.45 309.83 256.29 309.98 C257.12 310.13 257.96 310.28 258.79 310.42 C259.63 310.57 260.47 310.71 261.30 310.85 C262.14 310.99 262.98 311.12 263.81 311.26 C264.65 311.39 265.49 311.53 266.32 311.66 C267.16 311.79 267.99 311.92 268.83 312.05 C269.66 312.18 270.50 312.30 271.33 312.43 C272.17 312.55 273.00 312.67 273.84 312.80 C274.67 312.92 275.51 313.04 276.34 313.15 C277.17 313.27 278.01 313.39 278.84 313.50 C279.67 313.62 280.51 313.73 281.34 313.84 C282.17 313.95 283.01 314.06 283.84 314.17 C284.67 314.28 285.50 314.39 286.34 314.49 C287.17 314.60 288.00 314.70 288.83 314.80 C289.67 314.90 290.50 315.00 291.33 315.10 C292.16 315.20 292.99 315.30 293.83 315.40 C294.66 315.49 295.49 315.59 296.32 315.68 C297.15 315.78 297.98 315.87 298.82 315.96 C299.65 316.05 300.48 316.14 301.31 316.23 C302.14 316.32 302.98 316.40 303.81 316.49 C304.64 316.58 305.47 316.66 306.30 316.74 C307.13 316.83 307.97 316.91 308.80 316.99 C309.63 317.07 310.46 317.15 311.29 317.23 C312.13 317.31 312.96 317.38 313.79 317.46 C314.62 317.54 315.45 317.61 316.29 317.69 C317.12 317.76 317.95 317.83 318.78 317.90 C319.62 317.98 320.45 318.05 321.28 318.12 C322.12 318.19 322.95 318.25 323.78 318.32 C324.61 318.39 325.45 318.46 326.28 318.52 C327.12 318.59 327.95 318.65 328.78 318.72 C329.62 318.78 330.45 318.84 331.29 318.91 C332.12 318.97 332.96 319.03 333.79 319.09 C334.63 319.15 335.46 319.21 336.30 319.27 C337.13 319.33 337.97 319.38 338.80 319.44 C339.64 319.50 340.48 319.55 341.31 319.61 C342.15 319.66 342.99 319.72 343.83 319.77 C344.66 319.83 345.50 319.88 346.34 319.93 C347.18 319.98 348.02 320.04 348.86 320.09 C349.69 320.14 350.53 320.19 351.37 320.24 C352.21 320.29 353.05 320.34 353.89 320.39 C354.74 320.43 355.58 320.48 356.42 320.53 C357.26 320.58 358.10 320.62 358.94 320.67 C359.79 320.72 360.63 320.76 361.47 320.81 C362.32 320.85 363.16 320.90 364.00 320.94 C364.85 320.99 365.69 321.03 366.54 321.07 C367.38 321.12 368.23 321.16 369.08 321.20 C369.92 321.25 370.77 321.29 371.62 321.33 C372.47 321.37 373.31 321.41 374.16 321.46 C375.01 321.50 375.86 321.54 376.71 321.58 C377.56 321.62 378.41 321.66 379.26 321.70 C380.11 321.74 381.39 321.80 381.82 321.82" stroke="#0000ff"/>
</g>
<g stroke="#000" stroke-width="1.2" fill="none">
<circle cx="225" cy="13.3" r="8.1"/><path d="M233.1 13.3 H271.6"/>
<circle cx="411.4" cy="468.8" r="8.2"/><path d="M458.2 462.6 L419.6 468.8 L458.2 475"/>
</g>
<g fill="#fff">
<rect x="207" y="148" width="30" height="15"/>
<rect x="208.5" y="240" width="29" height="16.5"/>
</g>
<text x="209.80" y="68.40" font-size="15.00" fill="#000">10</text>
<text x="224.80" y="63.90" font-size="12.00" fill="#000">0</text>
<text x="209.80" y="161.30" font-size="15.00" fill="#000">10</text>
<path d="M225.30 153.75 h5.6" stroke="#000" stroke-width="0.85" fill="none"/>
<text x="231.20" y="156.80" font-size="12.00" fill="#000">1</text>
<text x="209.80" y="254.20" font-size="15.00" fill="#000">10</text>
<path d="M225.30 246.65 h5.6" stroke="#000" stroke-width="0.85" fill="none"/>
<text x="231.20" y="249.70" font-size="12.00" fill="#000">2</text>
<text x="166.20" y="347.10" font-size="15.00" fill="#000">10</text>
<path d="M181.70 339.55 h5.6" stroke="#000" stroke-width="0.85" fill="none"/>
<text x="187.60" y="342.60" font-size="12.00" fill="#000">3</text>
<text x="166.20" y="440.00" font-size="15.00" fill="#000">10</text>
<path d="M181.70 432.45 h5.6" stroke="#000" stroke-width="0.85" fill="none"/>
<text x="187.60" y="435.50" font-size="12.00" fill="#000">4</text>
<text x="31.50" y="469.20" font-size="15.00" fill="#000" text-anchor="middle">–6</text>
<text x="85.00" y="469.20" font-size="15.00" fill="#000" text-anchor="middle">–4</text>
<text x="138.30" y="469.20" font-size="15.00" fill="#000" text-anchor="middle">–2</text>
<text x="194.20" y="469.20" font-size="15.00" fill="#000" text-anchor="middle">0</text>
<text x="250.30" y="469.20" font-size="15.00" fill="#000" text-anchor="middle">2</text>
<text x="303.50" y="469.20" font-size="15.00" fill="#000" text-anchor="middle">4</text>
<text x="356.80" y="469.20" font-size="15.00" fill="#000" text-anchor="middle">6</text>
<text x="109.30" y="50.70" font-size="15.00" fill="#000" text-anchor="start">LLR</text>
<text x="9.60" y="311.70" font-size="15.00" fill="#000" text-anchor="start">Cassini</text>
<text x="388.30" y="147.50" font-size="15.00" fill="#00913f" text-anchor="start">B1534+12</text>
<text x="388.30" y="167.60" font-size="15.00" fill="#7a4413" text-anchor="start">SEP</text>
<text x="389.00" y="184.20" font-size="15.00" fill="#ff8000" text-anchor="start">J0737–3039</text>
<text x="388.30" y="204.10" font-size="15.00" fill="#ff0000" text-anchor="start">B1913+16</text>
<text x="388.30" y="280.70" font-size="15.00" fill="#000" text-anchor="start">LLR</text>
<text x="388.60" y="296.80" font-size="15.00" fill="#aa00c8" text-anchor="start">J1141–6545</text>
<text x="388.60" y="323.40" font-size="15.00" fill="#0000ff" text-anchor="start">J1738+0333</text>
<text x="418.7" y="450.8" font-size="19" fill="#000">β</text>
<text x="427.9" y="455.4" font-size="16" fill="#000">0</text>
<path d="M183.8 2.2 V20.8 M206.8 2.2 V20.8" stroke="#222" stroke-width="0.9" fill="none"/>
<text transform="translate(186.0,16.9) scale(1.33,1)" x="0" y="0" font-size="19" fill="#000">α</text>
<text x="197.5" y="20.4" font-size="16.5" fill="#000">0</text>
</svg>
</body></html>
